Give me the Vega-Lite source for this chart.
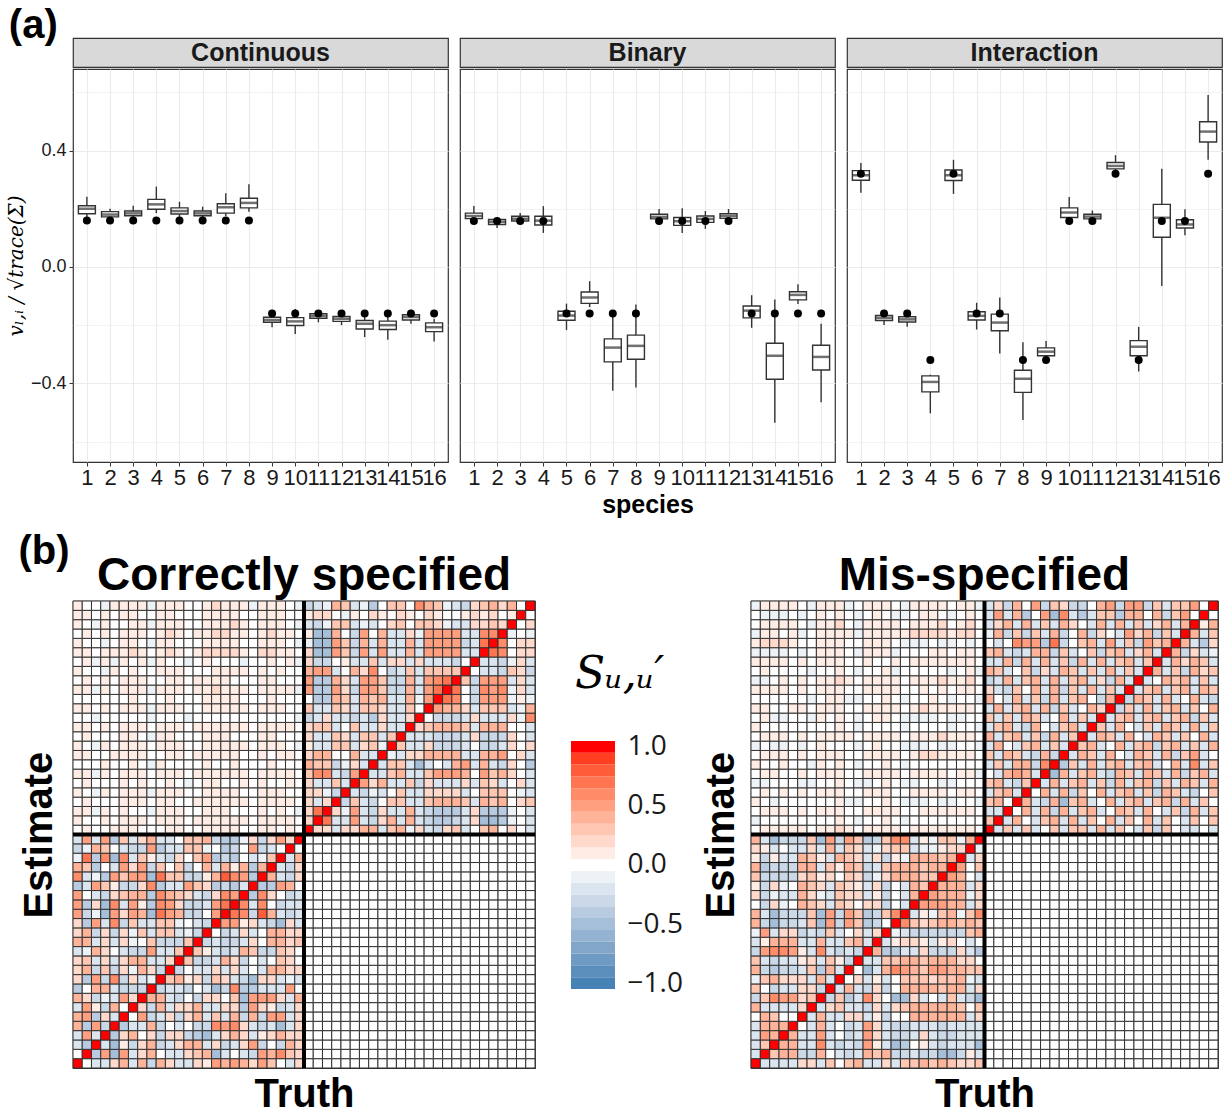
{
"$schema":"https://vega.github.io/schema/vega-lite/v6.json",
"padding":{"left":5,"top":6,"right":4,"bottom":2},
"background":"white",
"datasets":{
"box":[
{"panel":"C","sp":1,"lo":0.17,"q1":0.183,"med":0.2,"q3":0.21,"hi":0.241,"tru":0.16},
{"panel":"C","sp":2,"lo":0.165,"q1":0.172,"med":0.18,"q3":0.19,"hi":0.2,"tru":0.16},
{"panel":"C","sp":3,"lo":0.17,"q1":0.176,"med":0.184,"q3":0.192,"hi":0.21,"tru":0.16},
{"panel":"C","sp":4,"lo":0.185,"q1":0.198,"med":0.215,"q3":0.232,"hi":0.276,"tru":0.16},
{"panel":"C","sp":5,"lo":0.17,"q1":0.182,"med":0.192,"q3":0.203,"hi":0.224,"tru":0.16},
{"panel":"C","sp":6,"lo":0.17,"q1":0.176,"med":0.184,"q3":0.192,"hi":0.207,"tru":0.16},
{"panel":"C","sp":7,"lo":0.175,"q1":0.185,"med":0.205,"q3":0.217,"hi":0.253,"tru":0.16},
{"panel":"C","sp":8,"lo":0.19,"q1":0.203,"med":0.22,"q3":0.236,"hi":0.284,"tru":0.16},
{"panel":"C","sp":9,"lo":-0.207,"q1":-0.19,"med":-0.182,"q3":-0.173,"hi":-0.165,"tru":-0.16},
{"panel":"C","sp":10,"lo":-0.23,"q1":-0.201,"med":-0.187,"q3":-0.174,"hi":-0.144,"tru":-0.16},
{"panel":"C","sp":11,"lo":-0.19,"q1":-0.176,"med":-0.168,"q3":-0.161,"hi":-0.155,"tru":-0.16},
{"panel":"C","sp":12,"lo":-0.2,"q1":-0.187,"med":-0.178,"q3":-0.17,"hi":-0.16,"tru":-0.16},
{"panel":"C","sp":13,"lo":-0.241,"q1":-0.213,"med":-0.195,"q3":-0.184,"hi":-0.165,"tru":-0.16},
{"panel":"C","sp":14,"lo":-0.25,"q1":-0.215,"med":-0.2,"q3":-0.186,"hi":-0.165,"tru":-0.16},
{"panel":"C","sp":15,"lo":-0.195,"q1":-0.182,"med":-0.172,"q3":-0.164,"hi":-0.155,"tru":-0.16},
{"panel":"C","sp":16,"lo":-0.256,"q1":-0.222,"med":-0.207,"q3":-0.192,"hi":-0.178,"tru":-0.16},
{"panel":"B","sp":1,"lo":0.16,"q1":0.166,"med":0.175,"q3":0.185,"hi":0.209,"tru":0.158},
{"panel":"B","sp":2,"lo":0.134,"q1":0.146,"med":0.155,"q3":0.163,"hi":0.165,"tru":0.158},
{"panel":"B","sp":3,"lo":0.15,"q1":0.158,"med":0.166,"q3":0.174,"hi":0.185,"tru":0.158},
{"panel":"B","sp":4,"lo":0.117,"q1":0.144,"med":0.159,"q3":0.174,"hi":0.209,"tru":0.158},
{"panel":"B","sp":5,"lo":-0.217,"q1":-0.183,"med":-0.167,"q3":-0.152,"hi":-0.126,"tru":-0.16},
{"panel":"B","sp":6,"lo":-0.138,"q1":-0.125,"med":-0.105,"q3":-0.086,"hi":-0.049,"tru":-0.16},
{"panel":"B","sp":7,"lo":-0.425,"q1":-0.326,"med":-0.277,"q3":-0.247,"hi":-0.152,"tru":-0.16},
{"panel":"B","sp":8,"lo":-0.414,"q1":-0.317,"med":-0.271,"q3":-0.234,"hi":-0.129,"tru":-0.16},
{"panel":"B","sp":9,"lo":0.155,"q1":0.165,"med":0.172,"q3":0.181,"hi":0.199,"tru":0.158},
{"panel":"B","sp":10,"lo":0.117,"q1":0.143,"med":0.157,"q3":0.17,"hi":0.202,"tru":0.158},
{"panel":"B","sp":11,"lo":0.131,"q1":0.153,"med":0.165,"q3":0.175,"hi":0.192,"tru":0.158},
{"panel":"B","sp":12,"lo":0.16,"q1":0.167,"med":0.175,"q3":0.183,"hi":0.199,"tru":0.158},
{"panel":"B","sp":13,"lo":-0.209,"q1":-0.175,"med":-0.15,"q3":-0.134,"hi":-0.097,"tru":-0.16},
{"panel":"B","sp":14,"lo":-0.535,"q1":-0.386,"med":-0.305,"q3":-0.262,"hi":-0.112,"tru":-0.16},
{"panel":"B","sp":15,"lo":-0.127,"q1":-0.113,"med":-0.096,"q3":-0.085,"hi":-0.059,"tru":-0.16},
{"panel":"B","sp":16,"lo":-0.465,"q1":-0.354,"med":-0.309,"q3":-0.269,"hi":-0.195,"tru":-0.16},
{"panel":"I","sp":1,"lo":0.255,"q1":0.298,"med":0.315,"q3":0.331,"hi":0.357,"tru":0.32},
{"panel":"I","sp":2,"lo":-0.199,"q1":-0.184,"med":-0.175,"q3":-0.167,"hi":-0.165,"tru":-0.16},
{"panel":"I","sp":3,"lo":-0.205,"q1":-0.189,"med":-0.18,"q3":-0.171,"hi":-0.17,"tru":-0.16},
{"panel":"I","sp":4,"lo":-0.503,"q1":-0.429,"med":-0.395,"q3":-0.374,"hi":-0.37,"tru":-0.32},
{"panel":"I","sp":5,"lo":0.251,"q1":0.297,"med":0.315,"q3":0.333,"hi":0.368,"tru":0.32},
{"panel":"I","sp":6,"lo":-0.215,"q1":-0.182,"med":-0.168,"q3":-0.154,"hi":-0.123,"tru":-0.16},
{"panel":"I","sp":7,"lo":-0.297,"q1":-0.219,"med":-0.191,"q3":-0.162,"hi":-0.105,"tru":-0.16},
{"panel":"I","sp":8,"lo":-0.526,"q1":-0.431,"med":-0.384,"q3":-0.355,"hi":-0.259,"tru":-0.32},
{"panel":"I","sp":9,"lo":-0.31,"q1":-0.305,"med":-0.291,"q3":-0.278,"hi":-0.254,"tru":-0.32},
{"panel":"I","sp":10,"lo":0.165,"q1":0.17,"med":0.187,"q3":0.203,"hi":0.24,"tru":0.158},
{"panel":"I","sp":11,"lo":0.16,"q1":0.165,"med":0.173,"q3":0.181,"hi":0.194,"tru":0.158},
{"panel":"I","sp":12,"lo":0.33,"q1":0.337,"med":0.347,"q3":0.359,"hi":0.384,"tru":0.32},
{"panel":"I","sp":13,"lo":-0.359,"q1":-0.305,"med":-0.274,"q3":-0.253,"hi":-0.206,"tru":-0.32},
{"panel":"I","sp":14,"lo":-0.065,"q1":0.102,"med":0.169,"q3":0.215,"hi":0.337,"tru":0.158},
{"panel":"I","sp":15,"lo":0.109,"q1":0.134,"med":0.146,"q3":0.162,"hi":0.198,"tru":0.158},
{"panel":"I","sp":16,"lo":0.368,"q1":0.429,"med":0.465,"q3":0.499,"hi":0.591,"tru":0.32}
],
"leg":[
{"s":-1,"lo":-1.05,"hi":-0.95},{"s":-0.9,"lo":-0.95,"hi":-0.85},{"s":-0.8,"lo":-0.85,"hi":-0.75},{"s":-0.7,"lo":-0.75,"hi":-0.65},{"s":-0.6,"lo":-0.65,"hi":-0.55},{"s":-0.5,"lo":-0.55,"hi":-0.45},{"s":-0.4,"lo":-0.45,"hi":-0.35},{"s":-0.3,"lo":-0.35,"hi":-0.25},{"s":-0.2,"lo":-0.25,"hi":-0.15},{"s":-0.1,"lo":-0.15,"hi":-0.05},{"s":0,"lo":-0.05,"hi":0.05},{"s":0.1,"lo":0.05,"hi":0.15},{"s":0.2,"lo":0.15,"hi":0.25},{"s":0.3,"lo":0.25,"hi":0.35},{"s":0.4,"lo":0.35,"hi":0.45},{"s":0.5,"lo":0.45,"hi":0.55},{"s":0.6,"lo":0.55,"hi":0.65},{"s":0.7,"lo":0.65,"hi":0.75},{"s":0.8,"lo":0.75,"hi":0.85},{"s":0.9,"lo":0.85,"hi":0.95},{"s":1,"lo":0.95,"hi":1.05}
],
"cs":[
{"z":1,"A":1,"B":0,"C":-0.2,"D":-0.2,"E":0.2,"F":0.4,"G":-0.2,"H":0.4,"I":-0.3,"J":0.4,"K":0.2,"L":-0.2,"M":-0.2,"N":0.2,"O":0.1,"P":0.5,"Q":0.4,"R":0.5,"S":0.4,"T":0.2,"U":0.5,"V":0.3,"W":0,"X":-0.2,"Y":0.2,"a":0,"b":0,"c":0,"d":0,"e":0,"f":0,"g":0,"h":0,"i":0,"j":0,"k":0,"l":0,"m":0,"n":0,"o":0,"p":0,"q":0,"r":0,"s":0,"t":0,"u":0,"v":0,"w":0,"x":0,"y":0},
{"z":2,"A":0,"B":1,"C":-0.4,"D":0.5,"E":-0.5,"F":0.5,"G":-0.2,"H":0.2,"I":0.4,"J":0,"K":-0.2,"L":-0.2,"M":0.2,"N":0.3,"O":0.4,"P":-0.5,"Q":-0.2,"R":0,"S":-0.2,"T":-0.3,"U":0.5,"V":0.4,"W":0.6,"X":0.3,"Y":0.2,"a":0,"b":0,"c":0,"d":0,"e":0,"f":0,"g":0,"h":0,"i":0,"j":0,"k":0,"l":0,"m":0,"n":0,"o":0,"p":0,"q":0,"r":0,"s":0,"t":0,"u":0,"v":0,"w":0,"x":0,"y":0},
{"z":3,"A":-0.2,"B":-0.4,"C":1,"D":-0.2,"E":-0.5,"F":0.1,"G":-0.3,"H":0.2,"I":0.4,"J":-0.3,"K":-0.2,"L":0.2,"M":0.4,"N":0.4,"O":-0.2,"P":0.2,"Q":-0.3,"R":-0.2,"S":0.2,"T":0.5,"U":-0.3,"V":0,"W":-0.3,"X":0.4,"Y":0.2,"a":0,"b":0,"c":0,"d":0,"e":0,"f":0,"g":0,"h":0,"i":0,"j":0,"k":0,"l":0,"m":0,"n":0,"o":0,"p":0,"q":0,"r":0,"s":0,"t":0,"u":0,"v":0,"w":0,"x":0,"y":0},
{"z":4,"A":-0.2,"B":0.5,"C":-0.2,"D":1,"E":-0.4,"F":0.2,"G":0.4,"H":0,"I":0.2,"J":-0.3,"K":0.2,"L":0.2,"M":-0.3,"N":-0.4,"O":-0.5,"P":-0.2,"Q":0.2,"R":0.4,"S":0.2,"T":-0.2,"U":0.1,"V":0.2,"W":0.4,"X":0.2,"Y":0.2,"a":0,"b":0,"c":0,"d":0,"e":0,"f":0,"g":0,"h":0,"i":0,"j":0,"k":0,"l":0,"m":0,"n":0,"o":0,"p":0,"q":0,"r":0,"s":0,"t":0,"u":0,"v":0,"w":0,"x":0,"y":0},
{"z":5,"A":0.4,"B":-0.4,"C":0.5,"D":-0.3,"E":1,"F":-0.4,"G":-0.2,"H":-0.2,"I":0.4,"J":-0.3,"K":0,"L":-0.2,"M":0,"N":-0.3,"O":-0.3,"P":0.6,"Q":0.5,"R":0.6,"S":0.2,"T":-0.2,"U":-0.3,"V":-0.2,"W":-0.5,"X":-0.2,"Y":0.2,"a":0,"b":0,"c":0,"d":0,"e":0,"f":0,"g":0,"h":0,"i":0,"j":0,"k":0,"l":0,"m":0,"n":0,"o":0,"p":0,"q":0,"r":0,"s":0,"t":0,"u":0,"v":0,"w":0,"x":0,"y":0},
{"z":6,"A":0.4,"B":0.5,"C":-0.4,"D":0.2,"E":-0.2,"F":1,"G":0,"H":0.5,"I":-0.3,"J":-0.2,"K":0.2,"L":-0.3,"M":0.2,"N":0.4,"O":-0.2,"P":0.3,"Q":-0.2,"R":0.4,"S":-0.3,"T":0.4,"U":-0.3,"V":0.5,"W":0.5,"X":-0.2,"Y":0.2,"a":0,"b":0,"c":0,"d":0,"e":0,"f":0,"g":0,"h":0,"i":0,"j":0,"k":0,"l":0,"m":0,"n":0,"o":0,"p":0,"q":0,"r":0,"s":0,"t":0,"u":0,"v":0,"w":0,"x":0,"y":0},
{"z":7,"A":-0.2,"B":0.5,"C":0.1,"D":-0.3,"E":0.4,"F":0,"G":1,"H":0.2,"I":-0.3,"J":0.4,"K":-0.2,"L":0.2,"M":0.2,"N":0.4,"O":-0.2,"P":-0.2,"Q":0.2,"R":0.2,"S":-0.4,"T":0.5,"U":0.2,"V":0.1,"W":-0.3,"X":-0.2,"Y":0.2,"a":0,"b":0,"c":0,"d":0,"e":0,"f":0,"g":0,"h":0,"i":0,"j":0,"k":0,"l":0,"m":0,"n":0,"o":0,"p":0,"q":0,"r":0,"s":0,"t":0,"u":0,"v":0,"w":0,"x":0,"y":0},
{"z":8,"A":0.4,"B":0.2,"C":-0.3,"D":-0.1,"E":-0.2,"F":0.5,"G":0.2,"H":1,"I":0.4,"J":0.4,"K":-0.2,"L":-0.3,"M":0,"N":-0.3,"O":0.2,"P":0.2,"Q":0,"R":0.3,"S":-0.5,"T":0.5,"U":0.5,"V":0.5,"W":0.2,"X":-0.2,"Y":0.4,"a":0,"b":0,"c":0,"d":0,"e":0,"f":0,"g":0,"h":0,"i":0,"j":0,"k":0,"l":0,"m":0,"n":0,"o":0,"p":0,"q":0,"r":0,"s":0,"t":0,"u":0,"v":0,"w":0,"x":0,"y":0},
{"z":9,"A":-0.4,"B":0,"C":0.4,"D":0.4,"E":-0.2,"F":-0.3,"G":-0.3,"H":-0.3,"I":1,"J":-0.3,"K":-0.2,"L":-0.2,"M":-0.3,"N":0,"O":-0.2,"P":-0.5,"Q":-0.3,"R":0.6,"S":-0.4,"T":-0.4,"U":-0.2,"V":-0.2,"W":-0.2,"X":0.5,"Y":0,"a":0,"b":0,"c":0,"d":0,"e":0,"f":0,"g":0,"h":0,"i":0,"j":0,"k":0,"l":0,"m":0,"n":0,"o":0,"p":0,"q":0,"r":0,"s":0,"t":0,"u":0,"v":0,"w":0,"x":0,"y":0},
{"z":10,"A":0.2,"B":-0.4,"C":0.5,"D":-0.3,"E":0.6,"F":-0.3,"G":0.2,"H":-0.2,"I":-0.1,"J":1,"K":0.3,"L":0.4,"M":0.1,"N":0.2,"O":-0.3,"P":0.3,"Q":0.2,"R":-0.2,"S":-0.3,"T":-0.5,"U":0.2,"V":0.2,"W":-0.2,"X":-0.1,"Y":-0.2,"a":0,"b":0,"c":0,"d":0,"e":0,"f":0,"g":0,"h":0,"i":0,"j":0,"k":0,"l":0,"m":0,"n":0,"o":0,"p":0,"q":0,"r":0,"s":0,"t":0,"u":0,"v":0,"w":0,"x":0,"y":0},
{"z":11,"A":0.2,"B":0.4,"C":-0.3,"D":0.3,"E":-0.3,"F":0.2,"G":-0.1,"H":0.4,"I":0.2,"J":-0.3,"K":1,"L":-0.3,"M":0,"N":-0.2,"O":-0.2,"P":0.2,"Q":-0.2,"R":0.2,"S":-0.2,"T":0,"U":-0.2,"V":0.4,"W":0.4,"X":0.2,"Y":0.2,"a":0,"b":0,"c":0,"d":0,"e":0,"f":0,"g":0,"h":0,"i":0,"j":0,"k":0,"l":0,"m":0,"n":0,"o":0,"p":0,"q":0,"r":0,"s":0,"t":0,"u":0,"v":0,"w":0,"x":0,"y":0},
{"z":12,"A":0.2,"B":0.3,"C":-0.2,"D":0.2,"E":-0.2,"F":0.2,"G":0.4,"H":0.4,"I":-0.2,"J":-0.2,"K":0.2,"L":1,"M":0.3,"N":-0.3,"O":-0.3,"P":-0.2,"Q":0.4,"R":0.2,"S":-0.3,"T":0,"U":-0.2,"V":0,"W":0.3,"X":0.2,"Y":0,"a":0,"b":0,"c":0,"d":0,"e":0,"f":0,"g":0,"h":0,"i":0,"j":0,"k":0,"l":0,"m":0,"n":0,"o":0,"p":0,"q":0,"r":0,"s":0,"t":0,"u":0,"v":0,"w":0,"x":0,"y":0},
{"z":13,"A":-0.2,"B":-0.1,"C":0.4,"D":0.2,"E":0,"F":-0.2,"G":-0.3,"H":-0.3,"I":0.5,"J":-0.2,"K":-0.2,"L":0.3,"M":1,"N":0.3,"O":0.1,"P":-0.2,"Q":-0.3,"R":-0.2,"S":0.4,"T":0.3,"U":-0.3,"V":-0.3,"W":0.3,"X":0.2,"Y":0,"a":0,"b":0,"c":0,"d":0,"e":0,"f":0,"g":0,"h":0,"i":0,"j":0,"k":0,"l":0,"m":0,"n":0,"o":0,"p":0,"q":0,"r":0,"s":0,"t":0,"u":0,"v":0,"w":0,"x":0,"y":0},
{"z":14,"A":0.4,"B":0.4,"C":-0.2,"D":0.2,"E":-0.2,"F":0.2,"G":-0.1,"H":0,"I":0.3,"J":-0.3,"K":-0.3,"L":-0.3,"M":0.3,"N":1,"O":-0.3,"P":-0.2,"Q":-0.3,"R":-0.3,"S":-0.2,"T":0.2,"U":0,"V":0.4,"W":0.4,"X":0.2,"Y":0.3,"a":0,"b":0,"c":0,"d":0,"e":0,"f":0,"g":0,"h":0,"i":0,"j":0,"k":0,"l":0,"m":0,"n":0,"o":0,"p":0,"q":0,"r":0,"s":0,"t":0,"u":0,"v":0,"w":0,"x":0,"y":0},
{"z":15,"A":0.2,"B":0.4,"C":-0.3,"D":0.2,"E":-0.3,"F":0.2,"G":-0.1,"H":0.3,"I":-0.2,"J":0.3,"K":0.3,"L":-0.2,"M":-0.1,"N":-0.3,"O":1,"P":0,"Q":-0.3,"R":-0.2,"S":0.2,"T":-0.2,"U":0,"V":0.4,"W":0.4,"X":0.2,"Y":0.2,"a":0,"b":0,"c":0,"d":0,"e":0,"f":0,"g":0,"h":0,"i":0,"j":0,"k":0,"l":0,"m":0,"n":0,"o":0,"p":0,"q":0,"r":0,"s":0,"t":0,"u":0,"v":0,"w":0,"x":0,"y":0},
{"z":16,"A":0.2,"B":-0.4,"C":0.5,"D":-0.2,"E":0.6,"F":-0.3,"G":0.3,"H":-0.2,"I":-0.2,"J":0.3,"K":0.3,"L":-0.1,"M":0,"N":-0.2,"O":-0.3,"P":1,"Q":0.5,"R":0.5,"S":0.1,"T":0.2,"U":-0.2,"V":-0.3,"W":-0.5,"X":0.2,"Y":-0.2,"a":0,"b":0,"c":0,"d":0,"e":0,"f":0,"g":0,"h":0,"i":0,"j":0,"k":0,"l":0,"m":0,"n":0,"o":0,"p":0,"q":0,"r":0,"s":0,"t":0,"u":0,"v":0,"w":0,"x":0,"y":0},
{"z":17,"A":0.5,"B":-0.3,"C":-0.1,"D":-0.5,"E":0.5,"F":0.2,"G":0.5,"H":0.4,"I":-0.5,"J":0.7,"K":0.5,"L":0.4,"M":-0.3,"N":-0.3,"O":0,"P":0.5,"Q":1,"R":0.7,"S":0.6,"T":-0.3,"U":0.8,"V":0.4,"W":-0.2,"X":-0.3,"Y":-0.2,"a":0,"b":0,"c":0,"d":0,"e":0,"f":0,"g":0,"h":0,"i":0,"j":0,"k":0,"l":0,"m":0,"n":0,"o":0,"p":0,"q":0,"r":0,"s":0,"t":0,"u":0,"v":0,"w":0,"x":0,"y":0},
{"z":18,"A":0.5,"B":-0.4,"C":0.2,"D":-0.5,"E":0.6,"F":-0.2,"G":0.5,"H":0.1,"I":-0.4,"J":0.6,"K":0.5,"L":0.2,"M":-0.3,"N":-0.3,"O":-0.2,"P":0.5,"Q":0.7,"R":1,"S":0.6,"T":-0.2,"U":0.6,"V":0,"W":-0.3,"X":-0.2,"Y":-0.2,"a":0,"b":0,"c":0,"d":0,"e":0,"f":0,"g":0,"h":0,"i":0,"j":0,"k":0,"l":0,"m":0,"n":0,"o":0,"p":0,"q":0,"r":0,"s":0,"t":0,"u":0,"v":0,"w":0,"x":0,"y":0},
{"z":19,"A":0.5,"B":0,"C":-0.2,"D":-0.3,"E":0.2,"F":0.3,"G":0.4,"H":0.4,"I":-0.4,"J":0.6,"K":0.4,"L":0.3,"M":0.2,"N":-0.2,"O":-0.3,"P":0.2,"Q":0.6,"R":0.5,"S":1,"T":-0.4,"U":0.6,"V":0.2,"W":0,"X":-0.3,"Y":-0.2,"a":0,"b":0,"c":0,"d":0,"e":0,"f":0,"g":0,"h":0,"i":0,"j":0,"k":0,"l":0,"m":0,"n":0,"o":0,"p":0,"q":0,"r":0,"s":0,"t":0,"u":0,"v":0,"w":0,"x":0,"y":0},
{"z":20,"A":-0.4,"B":-0.2,"C":0.5,"D":0.3,"E":0.1,"F":-0.3,"G":-0.3,"H":0.2,"I":0.6,"J":-0.4,"K":-0.2,"L":-0.2,"M":0.5,"N":0.3,"O":0.2,"P":-0.4,"Q":-0.3,"R":-0.4,"S":-0.2,"T":1,"U":-0.4,"V":-0.4,"W":0.5,"X":0.4,"Y":0,"a":0,"b":0,"c":0,"d":0,"e":0,"f":0,"g":0,"h":0,"i":0,"j":0,"k":0,"l":0,"m":0,"n":0,"o":0,"p":0,"q":0,"r":0,"s":0,"t":0,"u":0,"v":0,"w":0,"x":0,"y":0},
{"z":21,"A":0.6,"B":-0.2,"C":-0.1,"D":-0.4,"E":0.5,"F":0.3,"G":0.5,"H":0.5,"I":-0.5,"J":0.7,"K":0.3,"L":0.3,"M":-0.3,"N":-0.3,"O":0.1,"P":0.4,"Q":0.8,"R":0.6,"S":0.5,"T":-0.4,"U":1,"V":0.4,"W":-0.2,"X":-0.3,"Y":0.2,"a":0,"b":0,"c":0,"d":0,"e":0,"f":0,"g":0,"h":0,"i":0,"j":0,"k":0,"l":0,"m":0,"n":0,"o":0,"p":0,"q":0,"r":0,"s":0,"t":0,"u":0,"v":0,"w":0,"x":0,"y":0},
{"z":22,"A":0.4,"B":0.3,"C":-0.4,"D":0,"E":-0.2,"F":0.5,"G":0.2,"H":0.5,"I":-0.3,"J":0.3,"K":0,"L":0.3,"M":-0.3,"N":0,"O":0.4,"P":-0.2,"Q":0.4,"R":0.1,"S":0.4,"T":-0.4,"U":0.4,"V":1,"W":-0.2,"X":-0.3,"Y":0.2,"a":0,"b":0,"c":0,"d":0,"e":0,"f":0,"g":0,"h":0,"i":0,"j":0,"k":0,"l":0,"m":0,"n":0,"o":0,"p":0,"q":0,"r":0,"s":0,"t":0,"u":0,"v":0,"w":0,"x":0,"y":0},
{"z":23,"A":-0.1,"B":0.7,"C":-0.4,"D":0.6,"E":-0.5,"F":0.6,"G":-0.2,"H":0.3,"I":0.1,"J":-0.2,"K":-0.3,"L":0.2,"M":0,"N":0.3,"O":0.5,"P":-0.4,"Q":-0.3,"R":-0.4,"S":0,"T":-0.2,"U":-0.1,"V":0.3,"W":1,"X":-0.2,"Y":0.4,"a":0,"b":0,"c":0,"d":0,"e":0,"f":0,"g":0,"h":0,"i":0,"j":0,"k":0,"l":0,"m":0,"n":0,"o":0,"p":0,"q":0,"r":0,"s":0,"t":0,"u":0,"v":0,"w":0,"x":0,"y":0},
{"z":24,"A":-0.3,"B":-0.1,"C":0.4,"D":0.3,"E":0,"F":-0.2,"G":-0.3,"H":-0.3,"I":0.5,"J":-0.4,"K":-0.2,"L":-0.2,"M":0.3,"N":0.3,"O":-0.1,"P":0,"Q":-0.4,"R":-0.3,"S":0,"T":0.5,"U":-0.3,"V":-0.2,"W":0,"X":1,"Y":0,"a":0,"b":0,"c":0,"d":0,"e":0,"f":0,"g":0,"h":0,"i":0,"j":0,"k":0,"l":0,"m":0,"n":0,"o":0,"p":0,"q":0,"r":0,"s":0,"t":0,"u":0,"v":0,"w":0,"x":0,"y":0},
{"z":25,"A":-0.2,"B":0.5,"C":-0.2,"D":0.5,"E":-0.4,"F":0.3,"G":-0.2,"H":0.2,"I":0.4,"J":-0.2,"K":-0.2,"L":0,"M":0.3,"N":0.3,"O":0.4,"P":-0.3,"Q":-0.4,"R":-0.4,"S":-0.1,"T":0.2,"U":-0.3,"V":0.2,"W":0.5,"X":0.2,"Y":1,"a":0,"b":0,"c":0,"d":0,"e":0,"f":0,"g":0,"h":0,"i":0,"j":0,"k":0,"l":0,"m":0,"n":0,"o":0,"p":0,"q":0,"r":0,"s":0,"t":0,"u":0,"v":0,"w":0,"x":0,"y":0},
{"z":26,"A":0,"B":0.1,"C":0,"D":0,"E":0.1,"F":0.1,"G":0.1,"H":0,"I":0,"J":0,"K":0.1,"L":0.1,"M":0,"N":0,"O":0.1,"P":0.1,"Q":0.1,"R":0.1,"S":0,"T":0,"U":0.1,"V":0.1,"W":0,"X":0.1,"Y":0,"a":1,"b":0.2,"c":0.2,"d":-0.2,"e":0.2,"f":0.2,"g":0.4,"h":0.4,"i":-0.2,"j":0.3,"k":0.4,"l":-0.1,"m":0.2,"n":-0.2,"o":-0.3,"p":0.2,"q":0.3,"r":-0.2,"s":0,"t":0.3,"u":0.4,"v":0,"w":0.2,"x":0,"y":-0.2},
{"z":27,"A":0.1,"B":0,"C":0,"D":0.1,"E":0,"F":0.1,"G":0.1,"H":0.1,"I":0,"J":0.1,"K":0.1,"L":0.1,"M":0,"N":0.1,"O":0.1,"P":0.1,"Q":0.1,"R":0.1,"S":0.1,"T":0,"U":0.1,"V":0.1,"W":0.1,"X":0.1,"Y":0,"a":0.2,"b":1,"c":0.7,"d":-0.2,"e":-0.2,"f":0.5,"g":-0.2,"h":-0.3,"i":0.2,"j":0.4,"k":-0.2,"l":0.4,"m":-0.2,"n":-0.3,"o":-0.4,"p":-0.4,"q":-0.3,"r":-0.2,"s":0.2,"t":-0.5,"u":-0.5,"v":-0.4,"w":-0.1,"x":0,"y":-0.2},
{"z":28,"A":0.1,"B":0.1,"C":-0.1,"D":0.1,"E":0,"F":0.1,"G":0,"H":0,"I":-0.1,"J":0.1,"K":0.1,"L":0.1,"M":0,"N":0,"O":0.1,"P":0.1,"Q":0.1,"R":0,"S":0,"T":0,"U":0.1,"V":0,"W":0.1,"X":0,"Y":-0.1,"a":0.2,"b":0.7,"c":1,"d":0.2,"e":-0.1,"f":0.5,"g":-0.2,"h":-0.3,"i":0.2,"j":-0.2,"k":-0.2,"l":0.4,"m":-0.2,"n":-0.3,"o":-0.4,"p":-0.4,"q":-0.4,"r":-0.2,"s":0.2,"t":-0.4,"u":-0.4,"v":-0.4,"w":-0.1,"x":0,"y":-0.2},
{"z":29,"A":0,"B":0.1,"C":0,"D":0,"E":0,"F":0.1,"G":0.1,"H":0.1,"I":0,"J":0.1,"K":0.1,"L":0,"M":0,"N":0.1,"O":0.1,"P":0.1,"Q":0.1,"R":0.1,"S":0.1,"T":0,"U":0.1,"V":0.1,"W":0.1,"X":0.1,"Y":0,"a":0.2,"b":-0.2,"c":0.2,"d":1,"e":-0.3,"f":0.3,"g":-0.2,"h":-0.3,"i":0,"j":0.3,"k":0.3,"l":-0.2,"m":-0.2,"n":0.3,"o":0.4,"p":0.4,"q":0.4,"r":0.3,"s":-0.2,"t":0.4,"u":0.3,"v":0.4,"w":0,"x":0.2,"y":0.3},
{"z":30,"A":0.1,"B":0,"C":-0.1,"D":0.1,"E":0,"F":0.1,"G":0.1,"H":0.1,"I":-0.1,"J":0.1,"K":0.1,"L":0.1,"M":0,"N":0,"O":0.1,"P":0.1,"Q":0.1,"R":0.1,"S":0,"T":0,"U":0.1,"V":0.1,"W":0.1,"X":0,"Y":0,"a":0.2,"b":0.2,"c":-0.1,"d":-0.3,"e":1,"f":-0.2,"g":-0.3,"h":-0.1,"i":-0.2,"j":0,"k":0.3,"l":-0.2,"m":-0.2,"n":0.2,"o":0.2,"p":0.2,"q":0.2,"r":-0.2,"s":0,"t":0.3,"u":0.3,"v":0.3,"w":0,"x":-0.1,"y":-0.2},
{"z":31,"A":0,"B":0.1,"C":0,"D":0,"E":0,"F":0.1,"G":0,"H":0.1,"I":0,"J":0,"K":0.1,"L":0,"M":-0.1,"N":0,"O":0.1,"P":0.1,"Q":0,"R":0,"S":0.1,"T":0,"U":0.1,"V":0,"W":0,"X":0.1,"Y":0,"a":0.2,"b":-0.2,"c":-0.2,"d":0.3,"e":-0.2,"f":1,"g":0.5,"h":0.2,"i":0.4,"j":-0.2,"k":-0.2,"l":0.3,"m":-0.3,"n":0.2,"o":-0.2,"p":-0.2,"q":-0.2,"r":0.2,"s":-0.2,"t":0.3,"u":0.2,"v":-0.2,"w":0,"x":0.2,"y":-0.2},
{"z":32,"A":0.1,"B":0.1,"C":-0.1,"D":0.1,"E":0,"F":0.1,"G":0.1,"H":0.1,"I":0,"J":0.1,"K":0.1,"L":0.1,"M":0,"N":0.1,"O":0.1,"P":0.1,"Q":0.1,"R":0.1,"S":0.1,"T":0,"U":0.1,"V":0.1,"W":0.1,"X":0.1,"Y":0,"a":0.3,"b":0.6,"c":0.6,"d":-0.2,"e":-0.3,"f":0.5,"g":1,"h":-0.2,"i":-0.2,"j":0.3,"k":0.4,"l":-0.2,"m":-0.2,"n":0.3,"o":0.5,"p":0.5,"q":0.5,"r":0.4,"s":0,"t":0.5,"u":0.3,"v":0.4,"w":0.2,"x":0,"y":-0.2},
{"z":33,"A":0,"B":0,"C":0,"D":0.1,"E":0,"F":0,"G":0.1,"H":0,"I":-0.1,"J":0.1,"K":0,"L":0,"M":0,"N":0,"O":0.1,"P":0,"Q":0,"R":0.1,"S":0,"T":0,"U":0,"V":0.1,"W":0,"X":0,"Y":0,"a":0.4,"b":0.3,"c":0.3,"d":-0.3,"e":-0.1,"f":0.2,"g":-0.2,"h":1,"i":-0.2,"j":0.3,"k":0.3,"l":-0.2,"m":-0.5,"n":-0.2,"o":0,"p":-0.2,"q":0.4,"r":0.5,"s":-0.2,"t":0.4,"u":-0.2,"v":-0.3,"w":0.2,"x":0,"y":-0.4},
{"z":34,"A":0.1,"B":0.1,"C":0,"D":0,"E":0.1,"F":0.1,"G":0.1,"H":0.1,"I":0,"J":0,"K":0.1,"L":0.1,"M":0,"N":0.1,"O":0.1,"P":0.1,"Q":0.1,"R":0.1,"S":0,"T":0,"U":0.1,"V":0,"W":0.1,"X":0.1,"Y":0,"a":0.2,"b":0.4,"c":0.4,"d":0,"e":0,"f":0.4,"g":-0.2,"h":-0.2,"i":1,"j":-0.1,"k":-0.2,"l":0.2,"m":0.2,"n":0.4,"o":0.4,"p":0.4,"q":0.4,"r":-0.2,"s":-0.2,"t":0.4,"u":0.4,"v":0.5,"w":0,"x":0.2,"y":-0.2},
{"z":35,"A":0.1,"B":0,"C":-0.1,"D":0.1,"E":0,"F":0.1,"G":0.1,"H":0.1,"I":0,"J":0.1,"K":0.1,"L":0.1,"M":0,"N":0,"O":0.1,"P":0.1,"Q":0.1,"R":0.1,"S":0.1,"T":0,"U":0.1,"V":0.1,"W":0.1,"X":0,"Y":-0.1,"a":0.1,"b":-0.2,"c":-0.2,"d":0.3,"e":0.3,"f":-0.2,"g":0.2,"h":0.3,"i":-0.1,"j":1,"k":0.3,"l":-0.2,"m":-0.2,"n":0.2,"o":-0.3,"p":-0.3,"q":-0.3,"r":-0.2,"s":0,"t":-0.3,"u":-0.3,"v":-0.2,"w":0.2,"x":0,"y":0.2},
{"z":36,"A":0,"B":0.1,"C":0,"D":0,"E":0,"F":0.1,"G":0.1,"H":0,"I":-0.1,"J":0.1,"K":0.1,"L":0,"M":0,"N":0,"O":0.1,"P":0.1,"Q":0.1,"R":0,"S":0,"T":0,"U":0.1,"V":0.1,"W":0,"X":0,"Y":0,"a":0.2,"b":-0.2,"c":-0.2,"d":0.3,"e":0.2,"f":-0.2,"g":0.3,"h":0.3,"i":-0.2,"j":0.3,"k":1,"l":-0.2,"m":-0.2,"n":-0.2,"o":-0.3,"p":-0.3,"q":-0.3,"r":-0.2,"s":0.2,"t":-0.3,"u":-0.3,"v":-0.3,"w":0.2,"x":0,"y":-0.2},
{"z":37,"A":0.1,"B":0.1,"C":0,"D":0.1,"E":0,"F":0.1,"G":0.1,"H":0.1,"I":0,"J":0.1,"K":0.1,"L":0.1,"M":0,"N":0.1,"O":0.1,"P":0.1,"Q":0.1,"R":0.1,"S":0.1,"T":0,"U":0.1,"V":0.1,"W":0.1,"X":0.1,"Y":0,"a":0.2,"b":0.3,"c":0.3,"d":-0.2,"e":0,"f":0.3,"g":-0.2,"h":-0.2,"i":0.2,"j":-0.2,"k":-0.2,"l":1,"m":0.2,"n":0.3,"o":0.4,"p":0.4,"q":0.4,"r":0.3,"s":-0.2,"t":0.4,"u":0.4,"v":0.4,"w":0,"x":0,"y":-0.2},
{"z":38,"A":0,"B":0,"C":-0.1,"D":0,"E":0,"F":0,"G":0,"H":0,"I":-0.1,"J":0,"K":0,"L":0,"M":-0.1,"N":0,"O":0,"P":0,"Q":0,"R":0,"S":0,"T":0,"U":0,"V":0,"W":0,"X":0,"Y":-0.1,"a":-0.3,"b":-0.2,"c":0.2,"d":-0.2,"e":-0.2,"f":-0.3,"g":-0.2,"h":-0.4,"i":0.2,"j":-0.2,"k":-0.2,"l":0.2,"m":1,"n":0,"o":-0.3,"p":-0.3,"q":-0.3,"r":-0.2,"s":0.2,"t":-0.2,"u":-0.2,"v":-0.2,"w":0.2,"x":-0.1,"y":0.6},
{"z":39,"A":0.1,"B":0.1,"C":0,"D":0.1,"E":0,"F":0.1,"G":0.1,"H":0.1,"I":-0.1,"J":0.1,"K":0.1,"L":0.1,"M":0,"N":0,"O":0.1,"P":0.1,"Q":0.1,"R":0.1,"S":0.1,"T":0,"U":0.1,"V":0.1,"W":0.1,"X":0,"Y":0,"a":0.3,"b":-0.2,"c":-0.2,"d":0.3,"e":0.2,"f":-0.2,"g":0.3,"h":0.3,"i":0.2,"j":-0.2,"k":-0.2,"l":0.3,"m":0,"n":1,"o":0.5,"p":0.4,"q":0.4,"r":0.2,"s":-0.2,"t":0.3,"u":0.3,"v":0.3,"w":-0.2,"x":-0.1,"y":0.4},
{"z":40,"A":0,"B":0,"C":0,"D":0,"E":0,"F":0,"G":0.1,"H":0,"I":0,"J":0,"K":0.1,"L":0,"M":0,"N":0,"O":0.1,"P":0.1,"Q":0.1,"R":0.1,"S":0,"T":0,"U":0,"V":0.1,"W":0,"X":0,"Y":0,"a":0,"b":-0.4,"c":-0.4,"d":0.4,"e":0.3,"f":-0.2,"g":0.4,"h":0.3,"i":0.4,"j":-0.2,"k":-0.2,"l":0.4,"m":-0.1,"n":0.5,"o":1,"p":0.7,"q":0.6,"r":0,"s":-0.3,"t":0.5,"u":0.5,"v":0.5,"w":-0.1,"x":0.1,"y":-0.1},
{"z":41,"A":0.1,"B":0.1,"C":-0.1,"D":0.1,"E":0,"F":0.1,"G":0.1,"H":0.1,"I":-0.1,"J":0.1,"K":0.1,"L":0.1,"M":0,"N":0.1,"O":0.1,"P":0.2,"Q":0.1,"R":0.1,"S":0.1,"T":0,"U":0.1,"V":0.1,"W":0.1,"X":0.1,"Y":-0.1,"a":0.5,"b":-0.4,"c":-0.4,"d":0.5,"e":0.2,"f":-0.3,"g":0.5,"h":0.5,"i":0.3,"j":-0.3,"k":-0.3,"l":0.4,"m":-0.2,"n":0.5,"o":0.7,"p":1,"q":0.7,"r":0,"s":-0.3,"t":0.6,"u":0.5,"v":0.6,"w":-0.1,"x":0.2,"y":-0.2},
{"z":42,"A":0,"B":0.1,"C":0,"D":0.1,"E":0,"F":0.1,"G":0.1,"H":0.1,"I":0,"J":0,"K":0.1,"L":0.1,"M":0,"N":0.1,"O":0.1,"P":0.1,"Q":0.1,"R":0,"S":0,"T":0,"U":0.1,"V":0.1,"W":0,"X":0,"Y":0,"a":0.5,"b":-0.4,"c":-0.4,"d":0.4,"e":0.2,"f":-0.2,"g":0.5,"h":0.5,"i":0.3,"j":-0.3,"k":-0.3,"l":0.4,"m":-0.2,"n":0.5,"o":0.6,"p":0.7,"q":1,"r":0.3,"s":-0.3,"t":0.5,"u":0.5,"v":0.5,"w":-0.2,"x":0.2,"y":-0.2},
{"z":43,"A":0.1,"B":0,"C":0,"D":-0.1,"E":0.1,"F":0,"G":0.1,"H":0,"I":0,"J":0.1,"K":0.1,"L":0.1,"M":0,"N":0,"O":0,"P":0.1,"Q":0.1,"R":0.1,"S":0.1,"T":0,"U":0.1,"V":0,"W":0.1,"X":0,"Y":0,"a":0.4,"b":0.5,"c":0.5,"d":-0.2,"e":0,"f":0.4,"g":0.2,"h":0.6,"i":0,"j":-0.3,"k":-0.2,"l":0.3,"m":-0.2,"n":0.3,"o":0.3,"p":0.3,"q":0.3,"r":1,"s":0,"t":-0.2,"u":-0.2,"v":-0.3,"w":0.3,"x":0.2,"y":-0.3},
{"z":44,"A":0,"B":0.1,"C":-0.1,"D":0.1,"E":-0.1,"F":0.1,"G":0,"H":0.1,"I":-0.1,"J":0.1,"K":0,"L":0,"M":-0.1,"N":0,"O":0.1,"P":0,"Q":0,"R":0,"S":-0.1,"T":0,"U":0,"V":0.1,"W":0,"X":0.1,"Y":-0.1,"a":0.2,"b":-0.3,"c":-0.3,"d":0,"e":0.1,"f":-0.2,"g":-0.2,"h":0.3,"i":-0.2,"j":0.2,"k":0.2,"l":-0.2,"m":0.2,"n":-0.2,"o":-0.2,"p":-0.2,"q":-0.3,"r":0,"s":1,"t":-0.2,"u":-0.2,"v":-0.3,"w":-0.1,"x":0.2,"y":-0.2},
{"z":45,"A":0.1,"B":0.1,"C":0,"D":0.1,"E":0.1,"F":0.1,"G":0.2,"H":0.1,"I":0,"J":0.1,"K":0.2,"L":0.1,"M":0,"N":0.1,"O":0.2,"P":0.2,"Q":0.2,"R":0.2,"S":0.1,"T":0,"U":0.2,"V":0.2,"W":0.1,"X":0.1,"Y":0,"a":0.2,"b":-0.5,"c":-0.5,"d":0.5,"e":0.3,"f":-0.3,"g":0.5,"h":-0.2,"i":0.5,"j":-0.2,"k":-0.2,"l":0.4,"m":-0.2,"n":0.5,"o":0.5,"p":0.5,"q":0.5,"r":-0.2,"s":-0.2,"t":1,"u":0.7,"v":0.6,"w":0,"x":0.2,"y":0.2},
{"z":46,"A":0.1,"B":0,"C":0,"D":-0.1,"E":0,"F":0.1,"G":0.1,"H":0,"I":-0.1,"J":0.1,"K":0.1,"L":0,"M":0,"N":0,"O":0.1,"P":0.1,"Q":0.1,"R":0.1,"S":0,"T":0,"U":0.1,"V":0.1,"W":0.1,"X":0,"Y":-0.1,"a":-0.1,"b":-0.5,"c":-0.5,"d":0.5,"e":0.3,"f":-0.3,"g":0.4,"h":-0.2,"i":0.4,"j":-0.2,"k":-0.2,"l":0.4,"m":-0.2,"n":0.5,"o":0.5,"p":0.5,"q":0.5,"r":-0.3,"s":-0.2,"t":0.7,"u":1,"v":0.6,"w":0,"x":0.2,"y":0.2},
{"z":47,"A":0,"B":0.1,"C":0,"D":0.1,"E":0,"F":0.1,"G":0.1,"H":0.1,"I":0,"J":0.1,"K":0.2,"L":0.1,"M":0,"N":0.1,"O":0.1,"P":0.2,"Q":0.2,"R":0.1,"S":0.1,"T":0,"U":0.1,"V":0.2,"W":0.1,"X":0.1,"Y":0,"a":0.1,"b":-0.5,"c":-0.5,"d":0.4,"e":0,"f":-0.3,"g":0.5,"h":0,"i":0.4,"j":-0.2,"k":-0.2,"l":0.2,"m":-0.1,"n":0.5,"o":0.5,"p":0.5,"q":0.5,"r":-0.2,"s":-0.2,"t":0.6,"u":0.6,"v":1,"w":-0.1,"x":0,"y":-0.1},
{"z":48,"A":0.1,"B":0,"C":-0.1,"D":0.1,"E":0,"F":0,"G":0.1,"H":0.1,"I":-0.1,"J":0.1,"K":0.1,"L":0.1,"M":0,"N":0,"O":0.1,"P":0.1,"Q":0.1,"R":0.2,"S":0.1,"T":0,"U":0.1,"V":0.1,"W":0.1,"X":0,"Y":-0.1,"a":-0.2,"b":-0.3,"c":-0.1,"d":0.3,"e":0.3,"f":-0.2,"g":-0.1,"h":-0.2,"i":0,"j":0.2,"k":0.3,"l":0,"m":0.3,"n":0.3,"o":0.2,"p":-0.1,"q":-0.2,"r":-0.2,"s":0.2,"t":0.2,"u":0.3,"v":0.2,"w":1,"x":0,"y":0.2},
{"z":49,"A":0.1,"B":0.1,"C":0,"D":0.1,"E":0,"F":0.1,"G":0.1,"H":0,"I":0,"J":0.1,"K":0.1,"L":0,"M":0,"N":0,"O":0.1,"P":0.1,"Q":0.1,"R":0.1,"S":0,"T":0,"U":0.1,"V":0.1,"W":0.1,"X":0,"Y":0,"a":0.1,"b":0.2,"c":0.2,"d":0,"e":-0.1,"f":0.1,"g":0,"h":0.2,"i":0.1,"j":0,"k":0.2,"l":0.1,"m":0,"n":0.2,"o":0.1,"p":0,"q":0,"r":0.1,"s":0.2,"t":0.1,"u":0.2,"v":0,"w":0.1,"x":1,"y":0},
{"z":50,"A":0.1,"B":0,"C":0,"D":-0.1,"E":0.1,"F":0.1,"G":0.1,"H":0.1,"I":-0.1,"J":0.1,"K":0.1,"L":0.1,"M":0,"N":0,"O":0.1,"P":0.2,"Q":0.1,"R":0.1,"S":0.1,"T":-0.1,"U":0.1,"V":0.1,"W":0.1,"X":0,"Y":-0.1,"a":-0.3,"b":-0.2,"c":-0.1,"d":0.4,"e":0.3,"f":-0.2,"g":-0.1,"h":-0.4,"i":0,"j":0.3,"k":0.3,"l":0,"m":0.6,"n":0.4,"o":0.3,"p":-0.1,"q":-0.2,"r":-0.3,"s":0.2,"t":0.3,"u":0.4,"v":0.2,"w":0.4,"x":0,"y":1}
],
"ms":[
{"z":1,"A":1,"B":-0.2,"C":-0.2,"D":-0.2,"E":-0.2,"F":0.2,"G":0.2,"H":-0.2,"I":0.3,"J":0,"K":0.3,"L":0.4,"M":-0.2,"N":-0.2,"O":0.2,"P":-0.2,"Q":0.3,"R":0.3,"S":0.4,"T":0.3,"U":0.4,"V":0.3,"W":0.2,"X":0.2,"Y":0.3,"a":0,"b":0,"c":0,"d":0,"e":0,"f":0,"g":0,"h":0,"i":0,"j":0,"k":0,"l":0,"m":0,"n":0,"o":0,"p":0,"q":0,"r":0,"s":0,"t":0,"u":0,"v":0,"w":0,"x":0,"y":0},
{"z":2,"A":-0.2,"B":1,"C":0.3,"D":0.4,"E":0.4,"F":-0.3,"G":-0.3,"H":0.4,"I":0,"J":-0.2,"K":-0.3,"L":-0.2,"M":0.4,"N":0.3,"O":0.4,"P":-0.3,"Q":-0.3,"R":-0.2,"S":-0.3,"T":-0.3,"U":-0.5,"V":-0.5,"W":-0.3,"X":0.1,"Y":-0.2,"a":0,"b":0,"c":0,"d":0,"e":0,"f":0,"g":0,"h":0,"i":0,"j":0,"k":0,"l":0,"m":0,"n":0,"o":0,"p":0,"q":0,"r":0,"s":0,"t":0,"u":0,"v":0,"w":0,"x":0,"y":0},
{"z":3,"A":-0.2,"B":0.3,"C":1,"D":0.4,"E":0.4,"F":-0.2,"G":-0.2,"H":0.6,"I":-0.2,"J":-0.3,"K":-0.2,"L":-0.3,"M":0.5,"N":0.1,"O":-0.2,"P":-0.5,"Q":-0.4,"R":0,"S":0.1,"T":-0.2,"U":-0.3,"V":-0.2,"W":-0.2,"X":-0.2,"Y":-0.5,"a":0,"b":0,"c":0,"d":0,"e":0,"f":0,"g":0,"h":0,"i":0,"j":0,"k":0,"l":0,"m":0,"n":0,"o":0,"p":0,"q":0,"r":0,"s":0,"t":0,"u":0,"v":0,"w":0,"x":0,"y":0},
{"z":4,"A":-0.2,"B":0.5,"C":0.4,"D":1,"E":0.4,"F":-0.2,"G":-0.2,"H":0.5,"I":-0.2,"J":0,"K":-0.3,"L":-0.2,"M":0.5,"N":0.2,"O":-0.2,"P":-0.3,"Q":-0.3,"R":-0.2,"S":0.2,"T":-0.2,"U":-0.3,"V":-0.3,"W":-0.2,"X":-0.2,"Y":-0.2,"a":0,"b":0,"c":0,"d":0,"e":0,"f":0,"g":0,"h":0,"i":0,"j":0,"k":0,"l":0,"m":0,"n":0,"o":0,"p":0,"q":0,"r":0,"s":0,"t":0,"u":0,"v":0,"w":0,"x":0,"y":0},
{"z":5,"A":-0.2,"B":0.4,"C":0.4,"D":0.4,"E":1,"F":0,"G":-0.2,"H":0.4,"I":-0.2,"J":0,"K":-0.3,"L":-0.2,"M":0.5,"N":0.2,"O":-0.2,"P":-0.3,"Q":-0.3,"R":-0.2,"S":-0.2,"T":-0.2,"U":-0.3,"V":-0.2,"W":-0.2,"X":-0.2,"Y":-0.2,"a":0,"b":0,"c":0,"d":0,"e":0,"f":0,"g":0,"h":0,"i":0,"j":0,"k":0,"l":0,"m":0,"n":0,"o":0,"p":0,"q":0,"r":0,"s":0,"t":0,"u":0,"v":0,"w":0,"x":0,"y":0},
{"z":6,"A":0,"B":0.4,"C":0.3,"D":0,"E":0,"F":1,"G":-0.2,"H":0.4,"I":-0.2,"J":-0.2,"K":0.2,"L":0.2,"M":-0.2,"N":0.1,"O":-0.3,"P":0,"Q":0,"R":0.4,"S":0.4,"T":0.4,"U":0.4,"V":0.4,"W":0.4,"X":-0.2,"Y":0.2,"a":0,"b":0,"c":0,"d":0,"e":0,"f":0,"g":0,"h":0,"i":0,"j":0,"k":0,"l":0,"m":0,"n":0,"o":0,"p":0,"q":0,"r":0,"s":0,"t":0,"u":0,"v":0,"w":0,"x":0,"y":0},
{"z":7,"A":0.4,"B":-0.2,"C":-0.2,"D":-0.2,"E":-0.2,"F":0.2,"G":1,"H":-0.2,"I":0.2,"J":0.3,"K":-0.2,"L":-0.2,"M":-0.3,"N":0.2,"O":-0.2,"P":0.2,"Q":0.3,"R":0.4,"S":0.4,"T":0.4,"U":0.4,"V":0.4,"W":0.3,"X":0,"Y":0.3,"a":0,"b":0,"c":0,"d":0,"e":0,"f":0,"g":0,"h":0,"i":0,"j":0,"k":0,"l":0,"m":0,"n":0,"o":0,"p":0,"q":0,"r":0,"s":0,"t":0,"u":0,"v":0,"w":0,"x":0,"y":0},
{"z":8,"A":-0.3,"B":0.3,"C":0.6,"D":0.5,"E":0.5,"F":0.2,"G":0.3,"H":1,"I":-0.3,"J":0.3,"K":-0.4,"L":-0.2,"M":0.6,"N":0.2,"O":0,"P":-0.5,"Q":-0.5,"R":0.2,"S":-0.2,"T":0,"U":-0.2,"V":0.3,"W":-0.2,"X":-0.3,"Y":-0.5,"a":0,"b":0,"c":0,"d":0,"e":0,"f":0,"g":0,"h":0,"i":0,"j":0,"k":0,"l":0,"m":0,"n":0,"o":0,"p":0,"q":0,"r":0,"s":0,"t":0,"u":0,"v":0,"w":0,"x":0,"y":0},
{"z":9,"A":0.3,"B":0,"C":-0.3,"D":-0.2,"E":-0.2,"F":0.2,"G":0.2,"H":-0.3,"I":1,"J":-0.2,"K":0.4,"L":-0.2,"M":-0.3,"N":0.2,"O":-0.3,"P":0,"Q":0.4,"R":0.4,"S":0.4,"T":0.4,"U":0.3,"V":0.4,"W":0.4,"X":-0.2,"Y":0.2,"a":0,"b":0,"c":0,"d":0,"e":0,"f":0,"g":0,"h":0,"i":0,"j":0,"k":0,"l":0,"m":0,"n":0,"o":0,"p":0,"q":0,"r":0,"s":0,"t":0,"u":0,"v":0,"w":0,"x":0,"y":0},
{"z":10,"A":-0.1,"B":0.3,"C":0.4,"D":0.2,"E":0.2,"F":0.2,"G":-0.2,"H":0.4,"I":-0.2,"J":1,"K":0,"L":0.2,"M":-0.2,"N":0.1,"O":-0.2,"P":0,"Q":0.3,"R":0.3,"S":0.3,"T":0.2,"U":0.3,"V":0.3,"W":0.4,"X":-0.1,"Y":-0.2,"a":0,"b":0,"c":0,"d":0,"e":0,"f":0,"g":0,"h":0,"i":0,"j":0,"k":0,"l":0,"m":0,"n":0,"o":0,"p":0,"q":0,"r":0,"s":0,"t":0,"u":0,"v":0,"w":0,"x":0,"y":0},
{"z":11,"A":0.4,"B":-0.3,"C":-0.4,"D":-0.3,"E":-0.3,"F":-0.2,"G":0.3,"H":-0.4,"I":0.4,"J":-0.2,"K":1,"L":0,"M":-0.5,"N":-0.2,"O":0.4,"P":0.6,"Q":0.5,"R":0.4,"S":0.3,"T":0.5,"U":0.5,"V":0.4,"W":0.4,"X":0.3,"Y":0.3,"a":0,"b":0,"c":0,"d":0,"e":0,"f":0,"g":0,"h":0,"i":0,"j":0,"k":0,"l":0,"m":0,"n":0,"o":0,"p":0,"q":0,"r":0,"s":0,"t":0,"u":0,"v":0,"w":0,"x":0,"y":0},
{"z":12,"A":0.3,"B":-0.2,"C":-0.3,"D":-0.2,"E":-0.2,"F":0.1,"G":0.2,"H":-0.2,"I":0.3,"J":0.1,"K":-0.3,"L":1,"M":-0.2,"N":-0.2,"O":0.3,"P":0.3,"Q":0.4,"R":0.4,"S":0.3,"T":0.4,"U":0.4,"V":0.4,"W":0.2,"X":0.2,"Y":0,"a":0,"b":0,"c":0,"d":0,"e":0,"f":0,"g":0,"h":0,"i":0,"j":0,"k":0,"l":0,"m":0,"n":0,"o":0,"p":0,"q":0,"r":0,"s":0,"t":0,"u":0,"v":0,"w":0,"x":0,"y":0},
{"z":13,"A":-0.3,"B":0.5,"C":0.6,"D":0.6,"E":0.5,"F":0.1,"G":-0.2,"H":0.6,"I":-0.2,"J":-0.3,"K":-0.2,"L":-0.3,"M":1,"N":0.4,"O":-0.4,"P":-0.4,"Q":-0.2,"R":-0.2,"S":0.2,"T":-0.3,"U":-0.3,"V":-0.3,"W":0.2,"X":-0.2,"Y":-0.4,"a":0,"b":0,"c":0,"d":0,"e":0,"f":0,"g":0,"h":0,"i":0,"j":0,"k":0,"l":0,"m":0,"n":0,"o":0,"p":0,"q":0,"r":0,"s":0,"t":0,"u":0,"v":0,"w":0,"x":0,"y":0},
{"z":14,"A":-0.2,"B":0.1,"C":0.4,"D":0.4,"E":0.4,"F":-0.2,"G":-0.2,"H":0.4,"I":-0.2,"J":-0.2,"K":0.3,"L":0.4,"M":-0.2,"N":1,"O":-0.2,"P":0.1,"Q":0.2,"R":0.2,"S":0.1,"T":-0.2,"U":0.1,"V":0.2,"W":0,"X":-0.2,"Y":0,"a":0,"b":0,"c":0,"d":0,"e":0,"f":0,"g":0,"h":0,"i":0,"j":0,"k":0,"l":0,"m":0,"n":0,"o":0,"p":0,"q":0,"r":0,"s":0,"t":0,"u":0,"v":0,"w":0,"x":0,"y":0},
{"z":15,"A":-0.1,"B":0.5,"C":-0.2,"D":0.2,"E":0.2,"F":-0.3,"G":-0.2,"H":-0.3,"I":0.3,"J":-0.2,"K":0,"L":0.2,"M":-0.2,"N":0.2,"O":1,"P":-0.1,"Q":-0.2,"R":-0.3,"S":-0.3,"T":-0.3,"U":-0.3,"V":-0.3,"W":-0.3,"X":0.3,"Y":0.4,"a":0,"b":0,"c":0,"d":0,"e":0,"f":0,"g":0,"h":0,"i":0,"j":0,"k":0,"l":0,"m":0,"n":0,"o":0,"p":0,"q":0,"r":0,"s":0,"t":0,"u":0,"v":0,"w":0,"x":0,"y":0},
{"z":16,"A":0.4,"B":-0.3,"C":-0.5,"D":-0.3,"E":-0.3,"F":-0.2,"G":0.3,"H":-0.5,"I":0.5,"J":-0.3,"K":0.5,"L":0.3,"M":-0.4,"N":-0.3,"O":0,"P":1,"Q":0.6,"R":0.3,"S":0.2,"T":0.3,"U":0.4,"V":0.4,"W":0.3,"X":0.4,"Y":0.3,"a":0,"b":0,"c":0,"d":0,"e":0,"f":0,"g":0,"h":0,"i":0,"j":0,"k":0,"l":0,"m":0,"n":0,"o":0,"p":0,"q":0,"r":0,"s":0,"t":0,"u":0,"v":0,"w":0,"x":0,"y":0},
{"z":17,"A":0.4,"B":-0.2,"C":-0.5,"D":-0.3,"E":-0.3,"F":-0.3,"G":0.3,"H":-0.5,"I":0.5,"J":-0.3,"K":0.5,"L":0.3,"M":-0.4,"N":-0.3,"O":0.3,"P":0.6,"Q":1,"R":-0.2,"S":0.1,"T":-0.1,"U":0.3,"V":0.4,"W":-0.1,"X":0.3,"Y":0.6,"a":0,"b":0,"c":0,"d":0,"e":0,"f":0,"g":0,"h":0,"i":0,"j":0,"k":0,"l":0,"m":0,"n":0,"o":0,"p":0,"q":0,"r":0,"s":0,"t":0,"u":0,"v":0,"w":0,"x":0,"y":0},
{"z":18,"A":0,"B":-0.3,"C":0.2,"D":-0.1,"E":0,"F":0.4,"G":0.3,"H":0.2,"I":-0.2,"J":0.3,"K":0.2,"L":0,"M":0.2,"N":0.2,"O":-0.3,"P":0,"Q":-0.2,"R":1,"S":0.5,"T":0.5,"U":0.5,"V":0.4,"W":0.4,"X":-0.2,"Y":0.2,"a":0,"b":0,"c":0,"d":0,"e":0,"f":0,"g":0,"h":0,"i":0,"j":0,"k":0,"l":0,"m":0,"n":0,"o":0,"p":0,"q":0,"r":0,"s":0,"t":0,"u":0,"v":0,"w":0,"x":0,"y":0},
{"z":19,"A":0.2,"B":-0.3,"C":-0.1,"D":-0.2,"E":-0.2,"F":0.4,"G":0.2,"H":-0.1,"I":-0.2,"J":0.3,"K":0.2,"L":0.2,"M":-0.2,"N":0.1,"O":-0.3,"P":0,"Q":-0.2,"R":0.4,"S":1,"T":0.5,"U":0.4,"V":0.4,"W":0.4,"X":-0.1,"Y":0.2,"a":0,"b":0,"c":0,"d":0,"e":0,"f":0,"g":0,"h":0,"i":0,"j":0,"k":0,"l":0,"m":0,"n":0,"o":0,"p":0,"q":0,"r":0,"s":0,"t":0,"u":0,"v":0,"w":0,"x":0,"y":0},
{"z":20,"A":0.1,"B":-0.3,"C":0.2,"D":-0.1,"E":0,"F":0.4,"G":0.3,"H":0.2,"I":-0.2,"J":0.3,"K":0.2,"L":0.1,"M":-0.2,"N":0.2,"O":-0.3,"P":0,"Q":-0.2,"R":0.4,"S":0.3,"T":1,"U":0.4,"V":0.4,"W":0.4,"X":-0.2,"Y":0.2,"a":0,"b":0,"c":0,"d":0,"e":0,"f":0,"g":0,"h":0,"i":0,"j":0,"k":0,"l":0,"m":0,"n":0,"o":0,"p":0,"q":0,"r":0,"s":0,"t":0,"u":0,"v":0,"w":0,"x":0,"y":0},
{"z":21,"A":0.3,"B":-0.3,"C":-0.3,"D":-0.3,"E":-0.3,"F":0.2,"G":0.3,"H":0.1,"I":0.2,"J":0,"K":0.3,"L":0.2,"M":-0.3,"N":-0.1,"O":0.2,"P":0.4,"Q":0.4,"R":0.4,"S":0.3,"T":0.3,"U":1,"V":0.5,"W":0.4,"X":0,"Y":-0.2,"a":0,"b":0,"c":0,"d":0,"e":0,"f":0,"g":0,"h":0,"i":0,"j":0,"k":0,"l":0,"m":0,"n":0,"o":0,"p":0,"q":0,"r":0,"s":0,"t":0,"u":0,"v":0,"w":0,"x":0,"y":0},
{"z":22,"A":0.4,"B":-0.4,"C":-0.3,"D":-0.3,"E":-0.3,"F":0.4,"G":0.4,"H":-0.2,"I":0.3,"J":0.1,"K":0.4,"L":0.3,"M":-0.3,"N":-0.2,"O":0.3,"P":0.4,"Q":0.4,"R":0.4,"S":0.3,"T":0.4,"U":0.4,"V":1,"W":0.5,"X":0,"Y":0.3,"a":0,"b":0,"c":0,"d":0,"e":0,"f":0,"g":0,"h":0,"i":0,"j":0,"k":0,"l":0,"m":0,"n":0,"o":0,"p":0,"q":0,"r":0,"s":0,"t":0,"u":0,"v":0,"w":0,"x":0,"y":0},
{"z":23,"A":0.1,"B":-0.3,"C":0.1,"D":-0.2,"E":-0.2,"F":0.4,"G":0.3,"H":0.1,"I":-0.2,"J":0.4,"K":0.3,"L":0.2,"M":-0.2,"N":0.2,"O":-0.3,"P":0.1,"Q":-0.1,"R":0.4,"S":0.4,"T":0.4,"U":0.3,"V":0.4,"W":1,"X":-0.2,"Y":0.2,"a":0,"b":0,"c":0,"d":0,"e":0,"f":0,"g":0,"h":0,"i":0,"j":0,"k":0,"l":0,"m":0,"n":0,"o":0,"p":0,"q":0,"r":0,"s":0,"t":0,"u":0,"v":0,"w":0,"x":0,"y":0},
{"z":24,"A":0.2,"B":0.1,"C":-0.2,"D":0,"E":-0.2,"F":-0.2,"G":0.2,"H":-0.2,"I":0.4,"J":-0.2,"K":0.3,"L":0.2,"M":-0.2,"N":-0.1,"O":0.2,"P":0.3,"Q":0.3,"R":-0.2,"S":-0.1,"T":-0.1,"U":0.1,"V":0.2,"W":0.2,"X":1,"Y":-0.1,"a":0,"b":0,"c":0,"d":0,"e":0,"f":0,"g":0,"h":0,"i":0,"j":0,"k":0,"l":0,"m":0,"n":0,"o":0,"p":0,"q":0,"r":0,"s":0,"t":0,"u":0,"v":0,"w":0,"x":0,"y":0},
{"z":25,"A":0.4,"B":-0.2,"C":-0.5,"D":-0.3,"E":-0.3,"F":-0.3,"G":0.3,"H":-0.5,"I":0.5,"J":-0.3,"K":0.5,"L":0.3,"M":-0.4,"N":-0.3,"O":0.3,"P":0.6,"Q":0.6,"R":-0.2,"S":0.1,"T":-0.1,"U":0.3,"V":0.3,"W":-0.1,"X":0.4,"Y":1,"a":0,"b":0,"c":0,"d":0,"e":0,"f":0,"g":0,"h":0,"i":0,"j":0,"k":0,"l":0,"m":0,"n":0,"o":0,"p":0,"q":0,"r":0,"s":0,"t":0,"u":0,"v":0,"w":0,"x":0,"y":0},
{"z":26,"A":0,"B":0.1,"C":0.1,"D":0.1,"E":0.1,"F":0.1,"G":0,"H":0.1,"I":0.1,"J":0.2,"K":0.1,"L":0,"M":0.1,"N":0.1,"O":0.1,"P":0.1,"Q":0,"R":0.1,"S":0.1,"T":0.1,"U":0.1,"V":0.1,"W":0.1,"X":0.1,"Y":0,"a":1,"b":-0.2,"c":0.3,"d":-0.2,"e":0.3,"f":-0.2,"g":0,"h":0.3,"i":-0.2,"j":0.3,"k":0.3,"l":-0.2,"m":0.4,"n":-0.2,"o":0.3,"p":0,"q":-0.2,"r":0.3,"s":-0.3,"t":0.3,"u":0,"v":-0.2,"w":-0.2,"x":0,"y":-0.2},
{"z":27,"A":-0.1,"B":0,"C":0,"D":0,"E":0,"F":0,"G":0,"H":0,"I":0,"J":0.1,"K":0,"L":-0.1,"M":0,"N":0,"O":0.1,"P":0,"Q":-0.1,"R":0,"S":0,"T":0,"U":0,"V":0,"W":0,"X":0,"Y":0,"a":0.3,"b":1,"c":-0.2,"d":0.4,"e":0,"f":-0.2,"g":0.3,"h":0.4,"i":-0.2,"j":0.4,"k":-0.2,"l":0.3,"m":0,"n":0.4,"o":-0.2,"p":0.3,"q":0,"r":0.4,"s":-0.2,"t":0.3,"u":0,"v":-0.2,"w":0.3,"x":0,"y":0.3},
{"z":28,"A":0,"B":0.1,"C":0.1,"D":0.1,"E":0,"F":0.1,"G":0,"H":0.1,"I":0.1,"J":0.1,"K":0,"L":0,"M":0.1,"N":0.1,"O":0.1,"P":0.1,"Q":0,"R":0,"S":0.1,"T":0.1,"U":0.1,"V":0.1,"W":0.1,"X":0.1,"Y":0,"a":-0.2,"b":-0.2,"c":1,"d":0,"e":0.4,"f":-0.2,"g":0.4,"h":-0.3,"i":0.4,"j":-0.2,"k":0.3,"l":0.4,"m":-0.2,"n":0,"o":0.4,"p":0.3,"q":-0.2,"r":0.4,"s":0,"t":-0.2,"u":0.3,"v":-0.3,"w":0.4,"x":-0.2,"y":0.3},
{"z":29,"A":0.1,"B":0,"C":-0.1,"D":0,"E":0,"F":0,"G":0,"H":0,"I":0,"J":0.1,"K":-0.1,"L":-0.1,"M":0,"N":0,"O":0.1,"P":0,"Q":-0.1,"R":-0.1,"S":-0.1,"T":0,"U":-0.1,"V":-0.1,"W":0,"X":0,"Y":-0.1,"a":0.3,"b":0.4,"c":0,"d":1,"e":0.4,"f":-0.2,"g":-0.3,"h":0.4,"i":-0.5,"j":0.3,"k":0.4,"l":-0.2,"m":0,"n":0.4,"o":-0.2,"p":0.3,"q":0.4,"r":-0.2,"s":0.3,"t":0.4,"u":-0.3,"v":0.4,"w":-0.2,"x":0.3,"y":0},
{"z":30,"A":0,"B":0.1,"C":0,"D":0.1,"E":0,"F":0.1,"G":0,"H":0.1,"I":0.1,"J":0.1,"K":0,"L":0,"M":0.1,"N":0.1,"O":0.1,"P":0,"Q":0,"R":0.1,"S":0.1,"T":0.1,"U":0.1,"V":0,"W":0.1,"X":0.1,"Y":0,"a":-0.2,"b":0.3,"c":0.4,"d":-0.2,"e":1,"f":0,"g":0.4,"h":-0.2,"i":0.4,"j":-0.3,"k":0.3,"l":0,"m":0.4,"n":-0.2,"o":0.3,"p":0.4,"q":-0.2,"r":0.3,"s":-0.3,"t":0.4,"u":0.3,"v":-0.2,"w":-0.3,"x":0,"y":0.3},
{"z":31,"A":-0.1,"B":-0.1,"C":0,"D":0,"E":0,"F":-0.1,"G":-0.1,"H":0,"I":0,"J":0.1,"K":0,"L":-0.1,"M":-0.1,"N":0,"O":0.1,"P":0,"Q":-0.1,"R":-0.1,"S":0,"T":0,"U":-0.1,"V":-0.1,"W":0,"X":0,"Y":0,"a":0.3,"b":0.4,"c":-0.2,"d":-0.3,"e":0.3,"f":1,"g":-0.2,"h":0.4,"i":-0.2,"j":0.3,"k":0.4,"l":-0.2,"m":0.3,"n":-0.3,"o":0.4,"p":-0.2,"q":0.3,"r":0.4,"s":-0.3,"t":0.3,"u":-0.2,"v":0.4,"w":0.3,"x":-0.2,"y":0.4},
{"z":32,"A":0,"B":0.1,"C":0.1,"D":0,"E":0,"F":0.1,"G":0,"H":0.1,"I":0.1,"J":0.1,"K":0,"L":0,"M":0.1,"N":0.1,"O":0.1,"P":0.1,"Q":0,"R":0.1,"S":0.1,"T":0.1,"U":0.1,"V":0,"W":0.1,"X":0.1,"Y":-0.1,"a":0,"b":-0.2,"c":0.4,"d":0.5,"e":0.4,"f":-0.2,"g":1,"h":-0.5,"i":0.4,"j":-0.2,"k":0.3,"l":0.4,"m":-0.2,"n":-0.3,"o":0.4,"p":0.3,"q":-0.2,"r":0.4,"s":0.3,"t":-0.2,"u":0.4,"v":-0.3,"w":0.3,"x":0.4,"y":-0.2},
{"z":33,"A":0.1,"B":0,"C":0,"D":0.1,"E":0,"F":0,"G":-0.1,"H":0.1,"I":0,"J":0.1,"K":0,"L":-0.1,"M":0,"N":0,"O":0.1,"P":0,"Q":-0.1,"R":0,"S":0,"T":0,"U":0,"V":0,"W":0,"X":0,"Y":0,"a":-0.2,"b":0.3,"c":-0.2,"d":0.4,"e":0.4,"f":-0.3,"g":0.6,"h":1,"i":-0.4,"j":0.3,"k":-0.2,"l":0.4,"m":-0.2,"n":0.3,"o":0.4,"p":-0.2,"q":0.3,"r":0.4,"s":-0.2,"t":0,"u":0.4,"v":-0.2,"w":0.6,"x":-0.2,"y":0.3},
{"z":34,"A":0,"B":0.1,"C":0.1,"D":0.1,"E":0,"F":0.1,"G":0,"H":0.1,"I":0.1,"J":0.1,"K":0,"L":0,"M":0.1,"N":0.1,"O":0.1,"P":0.1,"Q":0,"R":0.1,"S":0.2,"T":0.2,"U":0.1,"V":0.1,"W":0.1,"X":0.1,"Y":0,"a":0.3,"b":-0.2,"c":0.4,"d":0.3,"e":-0.2,"f":-0.3,"g":0.4,"h":-0.3,"i":1,"j":-0.2,"k":0.4,"l":0.3,"m":-0.2,"n":0.4,"o":0,"p":-0.2,"q":0.4,"r":0.3,"s":-0.2,"t":0.4,"u":-0.3,"v":0.3,"w":0.5,"x":-0.2,"y":0},
{"z":35,"A":-0.1,"B":0,"C":-0.1,"D":-0.1,"E":0,"F":-0.1,"G":0,"H":0.1,"I":0,"J":0,"K":0,"L":-0.1,"M":0,"N":0.1,"O":0,"P":0,"Q":-0.1,"R":-0.1,"S":-0.1,"T":0,"U":-0.1,"V":-0.1,"W":0,"X":0,"Y":-0.1,"a":-0.2,"b":0.4,"c":0,"d":-0.2,"e":0.3,"f":0.4,"g":-0.2,"h":0.3,"i":-0.2,"j":1,"k":0.3,"l":0.4,"m":-0.2,"n":0,"o":0.4,"p":-0.2,"q":0.3,"r":0.4,"s":-0.3,"t":0.3,"u":0.4,"v":-0.2,"w":0.3,"x":-0.2,"y":0.4},
{"z":36,"A":0,"B":0.1,"C":0.1,"D":0.1,"E":0,"F":0.1,"G":0,"H":0.1,"I":0.1,"J":0.1,"K":0.1,"L":0,"M":0.1,"N":0.1,"O":0.1,"P":0.1,"Q":0,"R":0.1,"S":0.1,"T":0.1,"U":0.2,"V":0.1,"W":0.1,"X":0.1,"Y":0,"a":0.4,"b":-0.2,"c":0.3,"d":0.4,"e":-0.2,"f":0.3,"g":-0.3,"h":0.4,"i":-0.2,"j":0.3,"k":1,"l":-0.2,"m":0.4,"n":0.3,"o":-0.2,"p":0.4,"q":0,"r":-0.2,"s":0.4,"t":0.3,"u":-0.2,"v":0.3,"w":0,"x":0.4,"y":-0.2},
{"z":37,"A":0.1,"B":0,"C":0,"D":0,"E":0,"F":0,"G":0,"H":0,"I":0,"J":0.1,"K":0,"L":-0.1,"M":0,"N":0,"O":0,"P":0,"Q":-0.1,"R":0,"S":0,"T":0,"U":0,"V":-0.1,"W":0,"X":0,"Y":-0.1,"a":-0.2,"b":0.3,"c":0.4,"d":-0.2,"e":-0.3,"f":0.4,"g":0,"h":-0.2,"i":0.3,"j":0.4,"k":-0.2,"l":1,"m":0.3,"n":-0.2,"o":0.4,"p":0,"q":-0.2,"r":0.3,"s":-0.2,"t":0.4,"u":0.3,"v":-0.2,"w":0.4,"x":-0.2,"y":0.3},
{"z":38,"A":0,"B":0.1,"C":-0.1,"D":-0.1,"E":0,"F":0,"G":-0.1,"H":0.1,"I":0,"J":0.1,"K":0,"L":-0.1,"M":0,"N":0.1,"O":0.1,"P":0,"Q":-0.1,"R":-0.1,"S":-0.1,"T":-0.1,"U":0,"V":-0.1,"W":-0.1,"X":0,"Y":0,"a":0.3,"b":-0.2,"c":0.3,"d":-0.2,"e":0.4,"f":0.3,"g":-0.2,"h":0,"i":0.4,"j":-0.2,"k":0.3,"l":-0.2,"m":1,"n":-0.2,"o":0.3,"p":0.4,"q":-0.2,"r":0.3,"s":0.4,"t":-0.2,"u":0.3,"v":0.4,"w":-0.3,"x":0.3,"y":-0.2},
{"z":39,"A":0.1,"B":0.1,"C":0,"D":0,"E":0.1,"F":0.1,"G":0,"H":0.1,"I":0.1,"J":0.1,"K":0,"L":0,"M":0.1,"N":0.1,"O":0.1,"P":0.1,"Q":0,"R":0.1,"S":0.2,"T":0.1,"U":0.1,"V":0.1,"W":0.1,"X":0.1,"Y":0,"a":-0.2,"b":0.4,"c":-0.2,"d":0.3,"e":0.4,"f":-0.2,"g":0.4,"h":-0.3,"i":0.3,"j":-0.2,"k":0,"l":0.4,"m":0.2,"n":1,"o":-0.3,"p":0.3,"q":-0.2,"r":0.4,"s":-0.2,"t":0.3,"u":0.4,"v":-0.2,"w":0.3,"x":0,"y":0.4},
{"z":40,"A":0,"B":0,"C":0,"D":0,"E":0,"F":0,"G":-0.1,"H":0,"I":0.1,"J":0.1,"K":-0.1,"L":-0.1,"M":0,"N":0,"O":0.1,"P":0,"Q":-0.1,"R":0,"S":0,"T":0.1,"U":0,"V":-0.1,"W":0,"X":0,"Y":-0.1,"a":0.4,"b":0,"c":-0.2,"d":0.4,"e":-0.2,"f":0.3,"g":-0.3,"h":0.4,"i":-0.2,"j":0.3,"k":0.4,"l":0,"m":-0.3,"n":0.4,"o":1,"p":-0.3,"q":0.4,"r":0.3,"s":-0.2,"t":0.4,"u":-0.2,"v":0,"w":0.4,"x":-0.2,"y":-0.3},
{"z":41,"A":0.1,"B":0.1,"C":0.1,"D":0.1,"E":0,"F":0.1,"G":0,"H":0.1,"I":0.1,"J":0.1,"K":0,"L":0,"M":0.1,"N":0.1,"O":0.1,"P":0.1,"Q":0,"R":0,"S":0.1,"T":0,"U":0.1,"V":0,"W":0.1,"X":0.1,"Y":0,"a":0.2,"b":-0.2,"c":-0.3,"d":0.3,"e":0,"f":0.4,"g":-0.2,"h":0.4,"i":-0.3,"j":0.3,"k":-0.2,"l":0.4,"m":-0.2,"n":0.3,"o":-0.2,"p":1,"q":-0.2,"r":0.3,"s":0.4,"t":-0.2,"u":0.3,"v":0.4,"w":-0.2,"x":0.4,"y":0.3},
{"z":42,"A":-0.1,"B":-0.1,"C":0,"D":0.1,"E":0,"F":0.1,"G":0,"H":0.1,"I":0.1,"J":0.2,"K":0.1,"L":0,"M":0.1,"N":0.1,"O":0.1,"P":0.1,"Q":0,"R":0.1,"S":0.1,"T":0.1,"U":0.2,"V":0.1,"W":0.1,"X":0.2,"Y":0,"a":-0.3,"b":-0.2,"c":0.4,"d":-0.2,"e":0.3,"f":0.4,"g":-0.2,"h":0.4,"i":-0.2,"j":0.3,"k":0.4,"l":-0.2,"m":0.2,"n":-0.3,"o":0.4,"p":-0.2,"q":1,"r":-0.2,"s":0,"t":0.4,"u":0.3,"v":0.4,"w":-0.2,"x":0.3,"y":-0.2},
{"z":43,"A":0,"B":0.1,"C":0,"D":0,"E":0,"F":0,"G":-0.1,"H":0,"I":0,"J":0.1,"K":0,"L":-0.1,"M":0,"N":0,"O":0.1,"P":-0.1,"Q":0,"R":0,"S":0,"T":0,"U":0,"V":-0.1,"W":0,"X":0.1,"Y":-0.1,"a":0.4,"b":0.3,"c":-0.2,"d":0,"e":0.3,"f":-0.3,"g":0.2,"h":-0.2,"i":0.4,"j":0.3,"k":-0.2,"l":0.3,"m":-0.2,"n":0.4,"o":-0.2,"p":0.3,"q":-0.2,"r":1,"s":0.4,"t":-0.2,"u":0.3,"v":-0.3,"w":0.4,"x":0.2,"y":0.3},
{"z":44,"A":0.1,"B":0.1,"C":0.1,"D":0.1,"E":0,"F":0.1,"G":0,"H":0.1,"I":0.1,"J":0.1,"K":0,"L":0,"M":0.1,"N":0,"O":0,"P":0.1,"Q":0,"R":0.1,"S":0.1,"T":0.1,"U":0.1,"V":0.1,"W":0.1,"X":0.1,"Y":0,"a":-0.2,"b":-0.2,"c":0.4,"d":-0.3,"e":0.4,"f":-0.2,"g":0.4,"h":-0.2,"i":0.3,"j":-0.3,"k":0.4,"l":-0.2,"m":0.4,"n":-0.2,"o":0.3,"p":0.4,"q":-0.2,"r":0.3,"s":1,"t":-0.2,"u":0.4,"v":0.2,"w":0.4,"x":0.3,"y":-0.2},
{"z":45,"A":-0.1,"B":-0.1,"C":-0.1,"D":-0.1,"E":0,"F":-0.1,"G":0,"H":0.1,"I":0.1,"J":0.1,"K":0,"L":-0.1,"M":0.1,"N":0.1,"O":0.1,"P":-0.1,"Q":0,"R":0,"S":0,"T":0.1,"U":0.1,"V":0,"W":0.1,"X":0.1,"Y":0,"a":0.3,"b":0.4,"c":-0.2,"d":-0.3,"e":-0.2,"f":0.4,"g":0.4,"h":-0.3,"i":0.3,"j":-0.2,"k":0,"l":0.3,"m":-0.3,"n":0.3,"o":0.4,"p":-0.2,"q":0.2,"r":0.4,"s":-0.2,"t":1,"u":0.4,"v":-0.3,"w":0.2,"x":-0.2,"y":-0.1},
{"z":46,"A":0.1,"B":0.2,"C":0.2,"D":0.2,"E":0.1,"F":0,"G":0,"H":0.1,"I":0.1,"J":0.1,"K":0,"L":0,"M":0.1,"N":0.1,"O":0.1,"P":0,"Q":-0.1,"R":-0.1,"S":-0.1,"T":0,"U":-0.1,"V":-0.1,"W":0,"X":-0.1,"Y":0,"a":0,"b":-0.2,"c":0,"d":0.6,"e":0.5,"f":0.5,"g":-0.4,"h":0.7,"i":-0.3,"j":0,"k":0.3,"l":0.4,"m":-0.2,"n":0.5,"o":-0.2,"p":0.3,"q":-0.3,"r":0.5,"s":0.3,"t":0.4,"u":1,"v":0.4,"w":-0.2,"x":-0.4,"y":0.2},
{"z":47,"A":-0.1,"B":0.1,"C":0.1,"D":0,"E":0.1,"F":-0.1,"G":0,"H":0.1,"I":0.1,"J":0.1,"K":0.1,"L":-0.1,"M":0.1,"N":0.1,"O":0.1,"P":0.1,"Q":0.1,"R":0.2,"S":0.2,"T":0.2,"U":0.2,"V":0.1,"W":0.2,"X":0.2,"Y":0,"a":-0.1,"b":0.4,"c":-0.3,"d":0.3,"e":-0.3,"f":0.3,"g":-0.2,"h":0.4,"i":-0.3,"j":0,"k":0.4,"l":-0.3,"m":0.2,"n":0,"o":-0.2,"p":0.5,"q":0.2,"r":0.4,"s":-0.3,"t":0.3,"u":-0.2,"v":1,"w":0.4,"x":-0.2,"y":0.3},
{"z":48,"A":0,"B":0.1,"C":0.1,"D":0.1,"E":0.1,"F":0,"G":-0.1,"H":0.1,"I":0.1,"J":0.2,"K":0,"L":-0.1,"M":0.1,"N":0.1,"O":0.1,"P":0.1,"Q":0,"R":0.1,"S":0.1,"T":0.1,"U":0.2,"V":0,"W":0.1,"X":0.2,"Y":0,"a":-0.2,"b":0.2,"c":0.4,"d":-0.2,"e":0.4,"f":-0.2,"g":0.3,"h":-0.2,"i":0.4,"j":0.2,"k":0,"l":-0.2,"m":0.4,"n":-0.2,"o":0.4,"p":-0.2,"q":0.3,"r":-0.2,"s":0.2,"t":0.4,"u":-0.2,"v":0.4,"w":1,"x":0.1,"y":0.4},
{"z":49,"A":0,"B":-0.1,"C":-0.1,"D":-0.1,"E":0,"F":-0.1,"G":0,"H":0.1,"I":0,"J":0.1,"K":0,"L":-0.1,"M":0,"N":0.1,"O":0,"P":-0.1,"Q":-0.1,"R":0,"S":0.1,"T":0.1,"U":0,"V":-0.1,"W":0,"X":0.1,"Y":0,"a":-0.2,"b":0.5,"c":-0.2,"d":0.4,"e":-0.4,"f":0,"g":0.5,"h":-0.5,"i":0.6,"j":-0.2,"k":-0.4,"l":-0.2,"m":0.3,"n":0.3,"o":-0.4,"p":0.4,"q":0.4,"r":0,"s":0.4,"t":-0.3,"u":0.3,"v":0.5,"w":0,"x":1,"y":0},
{"z":50,"A":-0.1,"B":0.1,"C":0.1,"D":0.1,"E":0.1,"F":0,"G":-0.1,"H":0.1,"I":0.1,"J":0.1,"K":-0.1,"L":0,"M":0.1,"N":0.1,"O":0.1,"P":0,"Q":-0.1,"R":0.1,"S":0.1,"T":0.1,"U":0.1,"V":0,"W":0.1,"X":0.1,"Y":-0.1,"a":-0.2,"b":0.2,"c":-0.3,"d":0.4,"e":0,"f":0.5,"g":-0.3,"h":0.3,"i":0.2,"j":-0.3,"k":-0.3,"l":0,"m":0.4,"n":0.5,"o":-0.3,"p":0.5,"q":0.5,"r":-0.3,"s":0.3,"t":-0.2,"u":0.3,"v":0.3,"w":0.5,"x":0,"y":1}
]
},
"columns":1,
"align":"none",
"spacing":14,
"concat":[
{
"title":{"text":"(a)","anchor":"start","fontSize":40,"fontWeight":"bold","offset":-9,"dx":3,"color":"#000000"},
"spacing":10,
"hconcat":[
{"spacing":0,"vconcat":[
{"width":375,"height":29,"data":{"values":[{"p":"Continuous"}]},"mark":{"type":"text","fontSize":25,"fontWeight":"bold","color":"#1a1a1a","baseline":"middle","align":"center"},"encoding":{"text":{"field":"p","type":"nominal"}},"view":{"fill":"#d9d9d9","stroke":"#333333","strokeWidth":1.2}},
{"width":375,"height":393,"data":{"name":"box"},"transform":[{"filter":"datum.panel === 'C'"}],
"encoding":{"x":{"field":"sp","type":"ordinal","scale":{"type":"point","padding":0.6},"axis":{"labelAngle":0,"labelFontSize":22,"labelColor":"#1a1a1a","tickSize":4,"tickColor":"#333333","grid":true,"gridColor":"#ebebeb","gridWidth":1.1,"domain":false,"title":null,"labelPadding":1}}},
"layer":[
{"mark":{"type":"rule","color":"#333333","strokeWidth":1.4},"encoding":{"y":{"field":"lo","type":"quantitative","scale":{"domain":[-0.67,0.68],"nice":false,"zero":false},"axis":{"values":[-0.6,-0.4,-0.2,0,0.2,0.4,0.6],"format":".1f","labelExpr":"(datum.value == 0.4 || datum.value == -0.4 || datum.value == 0) ? datum.label : ''","labelFontSize":18,"labelColor":"#1a1a1a","tickSize":4,"tickColor":{"condition":{"test":"datum.value == 0.4 || datum.value == -0.4 || datum.value == 0","value":"#333333"},"value":"transparent"},"grid":true,"gridColor":"#ebebeb","gridWidth":{"condition":{"test":"datum.value == 0.4 || datum.value == -0.4 || datum.value == 0","value":1.1},"value":0.6},"domain":false,"title":"vₗ,ᵢ / √trace(Σ)","titleFont":"DejaVu Serif","titleFontSize":20,"titleFontWeight":"normal","titleFontStyle":"italic","titlePadding":4,"labelPadding":3}},"y2":{"field":"hi"}}},
{"mark":{"type":"bar","fill":"white","stroke":"#333333","strokeWidth":1.4,"size":17},"encoding":{"y":{"field":"q1","type":"quantitative"},"y2":{"field":"q3"}}},
{"mark":{"type":"tick","color":"#333333","thickness":2.5,"size":17},"encoding":{"y":{"field":"med","type":"quantitative"}}},
{"mark":{"type":"point","filled":true,"shape":"circle","color":"black","opacity":1,"size":64},"encoding":{"y":{"field":"tru","type":"quantitative"}}}
]}
]},
{"spacing":0,"vconcat":[
{"width":375,"height":29,"data":{"values":[{"p":"Binary"}]},"mark":{"type":"text","fontSize":25,"fontWeight":"bold","color":"#1a1a1a","baseline":"middle","align":"center"},"encoding":{"text":{"field":"p","type":"nominal"}},"view":{"fill":"#d9d9d9","stroke":"#333333","strokeWidth":1.2}},
{"width":375,"height":393,"data":{"name":"box"},"transform":[{"filter":"datum.panel === 'B'"}],
"encoding":{"x":{"field":"sp","type":"ordinal","scale":{"type":"point","padding":0.6},"axis":{"labelAngle":0,"labelFontSize":22,"labelColor":"#1a1a1a","tickSize":4,"tickColor":"#333333","grid":true,"gridColor":"#ebebeb","gridWidth":1.1,"domain":false,"title":"species","titleFontSize":25,"titleFontWeight":"bold","titlePadding":4,"labelPadding":1}}},
"layer":[
{"mark":{"type":"rule","color":"#333333","strokeWidth":1.4},"encoding":{"y":{"field":"lo","type":"quantitative","scale":{"domain":[-0.67,0.68],"nice":false,"zero":false},"axis":{"values":[-0.6,-0.4,-0.2,0,0.2,0.4,0.6],"labels":false,"ticks":false,"grid":true,"gridColor":"#ebebeb","gridWidth":{"condition":{"test":"datum.value == 0.4 || datum.value == -0.4 || datum.value == 0","value":1.1},"value":0.6},"domain":false,"title":null}},"y2":{"field":"hi"}}},
{"mark":{"type":"bar","fill":"white","stroke":"#333333","strokeWidth":1.4,"size":17},"encoding":{"y":{"field":"q1","type":"quantitative"},"y2":{"field":"q3"}}},
{"mark":{"type":"tick","color":"#333333","thickness":2.5,"size":17},"encoding":{"y":{"field":"med","type":"quantitative"}}},
{"mark":{"type":"point","filled":true,"shape":"circle","color":"black","opacity":1,"size":64},"encoding":{"y":{"field":"tru","type":"quantitative"}}}
]}
]},
{"spacing":0,"vconcat":[
{"width":375,"height":29,"data":{"values":[{"p":"Interaction"}]},"mark":{"type":"text","fontSize":25,"fontWeight":"bold","color":"#1a1a1a","baseline":"middle","align":"center"},"encoding":{"text":{"field":"p","type":"nominal"}},"view":{"fill":"#d9d9d9","stroke":"#333333","strokeWidth":1.2}},
{"width":375,"height":393,"data":{"name":"box"},"transform":[{"filter":"datum.panel === 'I'"}],
"encoding":{"x":{"field":"sp","type":"ordinal","scale":{"type":"point","padding":0.6},"axis":{"labelAngle":0,"labelFontSize":22,"labelColor":"#1a1a1a","tickSize":4,"tickColor":"#333333","grid":true,"gridColor":"#ebebeb","gridWidth":1.1,"domain":false,"title":null,"labelPadding":1}}},
"layer":[
{"mark":{"type":"rule","color":"#333333","strokeWidth":1.4},"encoding":{"y":{"field":"lo","type":"quantitative","scale":{"domain":[-0.67,0.68],"nice":false,"zero":false},"axis":{"values":[-0.6,-0.4,-0.2,0,0.2,0.4,0.6],"labels":false,"ticks":false,"grid":true,"gridColor":"#ebebeb","gridWidth":{"condition":{"test":"datum.value == 0.4 || datum.value == -0.4 || datum.value == 0","value":1.1},"value":0.6},"domain":false,"title":null}},"y2":{"field":"hi"}}},
{"mark":{"type":"bar","fill":"white","stroke":"#333333","strokeWidth":1.4,"size":17},"encoding":{"y":{"field":"q1","type":"quantitative"},"y2":{"field":"q3"}}},
{"mark":{"type":"tick","color":"#333333","thickness":2.5,"size":17},"encoding":{"y":{"field":"med","type":"quantitative"}}},
{"mark":{"type":"point","filled":true,"shape":"circle","color":"black","opacity":1,"size":64},"encoding":{"y":{"field":"tru","type":"quantitative"}}}
]}
]}
]
},
{
"title":{"text":"(b)","anchor":"start","fontSize":40,"fontWeight":"bold","offset":-20,"color":"#000000"},
"spacing":17,
"hconcat":[
{"spacing":33,"hconcat":[
{"width":462,"height":467,"data":{"name":"cs"},
"title":{"text":"Correctly specified","fontSize":46,"fontWeight":"bold","frame":"group","offset":-1,"color":"#000000"},
"layer":[
{"transform":[{"fold":["A","B","C","D","E","F","G","H","I","J","K","L","M","N","O","P","Q","R","S","T","U","V","W","X","Y","a","b","c","d","e","f","g","h","i","j","k","l","m","n","o","p","q","r","s","t","u","v","w","x","y"],"as":["key","value"]}],
"mark":{"type":"rect","stroke":"#333333","strokeWidth":1},
"encoding":{
"x":{"field":"key","type":"ordinal","axis":{"labels":false,"ticks":false,"domain":false,"title":"Truth","titleFontSize":40,"titleFontWeight":"bold","titlePadding":6,"titleColor":"#000000"}},
"y":{"field":"z","type":"ordinal","sort":"descending","axis":{"labels":false,"ticks":false,"domain":false,"title":"Estimate","titleFontSize":40,"titleFontWeight":"bold","titlePadding":14,"titleColor":"#000000"}},
"color":{"field":"value","type":"quantitative","scale":{"domain":[-1,0,1],"range":["#4682b4","#ffffff","#ff0000"],"interpolate":"lab"},"legend":null}}},
{"data":{"values":[{"key":"a"}]},"mark":{"type":"rule","color":"black","strokeWidth":4},"encoding":{"x":{"field":"key","type":"ordinal","bandPosition":0}}},
{"data":{"values":[{"z":25}]},"mark":{"type":"rule","color":"black","strokeWidth":4},"encoding":{"y":{"field":"z","type":"ordinal","sort":"descending","bandPosition":0}}}
]},
{"width":44,"height":467,"data":{"name":"leg"},
"title":{"text":"Sᵤ,ᵤ′","font":"DejaVu Serif","fontStyle":"italic","fontWeight":"normal","fontSize":44,"anchor":"start","frame":"group","dy":100,"dx":4,"color":"#000000"},
"view":{"stroke":null},
"mark":{"type":"rect"},
"encoding":{
"y":{"field":"lo","type":"quantitative","scale":{"domain":[-1.719,2.235],"nice":false,"zero":false},"axis":{"orient":"right","values":[-1,-0.5,0,0.5,1],"format":".1f","labelFontSize":28,"labelFont":"Open Sans","labelColor":"#1a1a1a","domain":false,"grid":false,"tickColor":"white","tickSize":-8,"tickWidth":1.5,"labelPadding":20,"title":null}},
"y2":{"field":"hi"},
"color":{"field":"s","type":"quantitative","scale":{"domain":[-1,0,1],"range":["#4682b4","#ffffff","#ff0000"],"interpolate":"lab"},"legend":null}}}
]},
{"width":467,"height":467,"data":{"name":"ms"},
"title":{"text":"Mis-specified","fontSize":46,"fontWeight":"bold","frame":"group","offset":-1,"color":"#000000"},
"layer":[
{"transform":[{"fold":["A","B","C","D","E","F","G","H","I","J","K","L","M","N","O","P","Q","R","S","T","U","V","W","X","Y","a","b","c","d","e","f","g","h","i","j","k","l","m","n","o","p","q","r","s","t","u","v","w","x","y"],"as":["key","value"]}],
"mark":{"type":"rect","stroke":"#333333","strokeWidth":1},
"encoding":{
"x":{"field":"key","type":"ordinal","axis":{"labels":false,"ticks":false,"domain":false,"title":"Truth","titleFontSize":40,"titleFontWeight":"bold","titlePadding":6,"titleColor":"#000000"}},
"y":{"field":"z","type":"ordinal","sort":"descending","axis":{"labels":false,"ticks":false,"domain":false,"title":"Estimate","titleFontSize":40,"titleFontWeight":"bold","titlePadding":10,"titleColor":"#000000"}},
"color":{"field":"value","type":"quantitative","scale":{"domain":[-1,0,1],"range":["#4682b4","#ffffff","#ff0000"],"interpolate":"lab"},"legend":null}}},
{"data":{"values":[{"key":"a"}]},"mark":{"type":"rule","color":"black","strokeWidth":4},"encoding":{"x":{"field":"key","type":"ordinal","bandPosition":0}}},
{"data":{"values":[{"z":25}]},"mark":{"type":"rule","color":"black","strokeWidth":4},"encoding":{"y":{"field":"z","type":"ordinal","sort":"descending","bandPosition":0}}}
]}
]
}
],
"config":{"font":"Liberation Sans","view":{"stroke":"#333333","strokeWidth":1.2},"axis":{"labelColor":"#1a1a1a","titleColor":"#000000"},"title":{"color":"#000000"}}
}
